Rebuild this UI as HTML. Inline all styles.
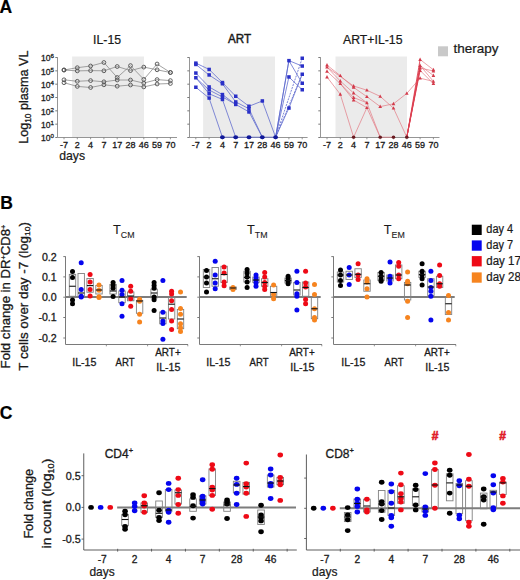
<!DOCTYPE html>
<html><head><meta charset="utf-8"><style>
html,body{margin:0;padding:0;background:#fff;width:520px;height:580px;overflow:hidden}
svg{display:block;font-family:"Liberation Sans", sans-serif}
</style></head><body>
<svg width="520" height="580" viewBox="0 0 520 580">
<rect width="520" height="580" fill="#fff"/>
<text x="-0.5" y="12.6" font-size="17.5" text-anchor="start" fill="#000" stroke="#000" stroke-width="0.2" font-weight="bold">A</text>
<text x="0.2" y="209.4" font-size="17.5" text-anchor="start" fill="#000" stroke="#000" stroke-width="0.2" font-weight="bold">B</text>
<text x="-0.3" y="418.9" font-size="17.5" text-anchor="start" fill="#000" stroke="#000" stroke-width="0.2" font-weight="bold">C</text>
<rect x="72.1" y="56.5" width="71.9" height="81.0" fill="#ebebeb"/>
<line x1="57.5" y1="57.3" x2="57.5" y2="137.5" stroke="#8a8a8a" stroke-width="0.9"/>
<line x1="57.5" y1="137.5" x2="177.0" y2="137.5" stroke="#8a8a8a" stroke-width="0.9"/>
<line x1="55.3" y1="137.5" x2="57.5" y2="137.5" stroke="#7a7a7a" stroke-width="1"/>
<line x1="55.3" y1="124.17" x2="57.5" y2="124.17" stroke="#7a7a7a" stroke-width="1"/>
<line x1="55.3" y1="110.84" x2="57.5" y2="110.84" stroke="#7a7a7a" stroke-width="1"/>
<line x1="55.3" y1="97.50999999999999" x2="57.5" y2="97.50999999999999" stroke="#7a7a7a" stroke-width="1"/>
<line x1="55.3" y1="84.18" x2="57.5" y2="84.18" stroke="#7a7a7a" stroke-width="1"/>
<line x1="55.3" y1="70.85" x2="57.5" y2="70.85" stroke="#7a7a7a" stroke-width="1"/>
<line x1="55.3" y1="57.519999999999996" x2="57.5" y2="57.519999999999996" stroke="#7a7a7a" stroke-width="1"/>
<line x1="64.0" y1="137.5" x2="64.0" y2="139.3" stroke="#7a7a7a" stroke-width="0.8"/>
<text x="64.0" y="147.8" font-size="9" text-anchor="middle" fill="#1a1a1a" stroke="#1a1a1a" stroke-width="0.3" font-weight="normal">-7</text>
<line x1="77.3" y1="137.5" x2="77.3" y2="139.3" stroke="#7a7a7a" stroke-width="0.8"/>
<text x="77.3" y="147.8" font-size="9" text-anchor="middle" fill="#1a1a1a" stroke="#1a1a1a" stroke-width="0.3" font-weight="normal">2</text>
<line x1="90.6" y1="137.5" x2="90.6" y2="139.3" stroke="#7a7a7a" stroke-width="0.8"/>
<text x="90.6" y="147.8" font-size="9" text-anchor="middle" fill="#1a1a1a" stroke="#1a1a1a" stroke-width="0.3" font-weight="normal">4</text>
<line x1="103.9" y1="137.5" x2="103.9" y2="139.3" stroke="#7a7a7a" stroke-width="0.8"/>
<text x="103.9" y="147.8" font-size="9" text-anchor="middle" fill="#1a1a1a" stroke="#1a1a1a" stroke-width="0.3" font-weight="normal">7</text>
<line x1="117.2" y1="137.5" x2="117.2" y2="139.3" stroke="#7a7a7a" stroke-width="0.8"/>
<text x="117.2" y="147.8" font-size="9" text-anchor="middle" fill="#1a1a1a" stroke="#1a1a1a" stroke-width="0.3" font-weight="normal">17</text>
<line x1="130.5" y1="137.5" x2="130.5" y2="139.3" stroke="#7a7a7a" stroke-width="0.8"/>
<text x="130.5" y="147.8" font-size="9" text-anchor="middle" fill="#1a1a1a" stroke="#1a1a1a" stroke-width="0.3" font-weight="normal">28</text>
<line x1="143.8" y1="137.5" x2="143.8" y2="139.3" stroke="#7a7a7a" stroke-width="0.8"/>
<text x="143.8" y="147.8" font-size="9" text-anchor="middle" fill="#1a1a1a" stroke="#1a1a1a" stroke-width="0.3" font-weight="normal">46</text>
<line x1="157.10000000000002" y1="137.5" x2="157.10000000000002" y2="139.3" stroke="#7a7a7a" stroke-width="0.8"/>
<text x="157.1" y="147.8" font-size="9" text-anchor="middle" fill="#1a1a1a" stroke="#1a1a1a" stroke-width="0.3" font-weight="normal">59</text>
<line x1="170.4" y1="137.5" x2="170.4" y2="139.3" stroke="#7a7a7a" stroke-width="0.8"/>
<text x="170.4" y="147.8" font-size="9" text-anchor="middle" fill="#1a1a1a" stroke="#1a1a1a" stroke-width="0.3" font-weight="normal">70</text>
<rect x="203.1" y="56.5" width="71.9" height="81.0" fill="#ebebeb"/>
<line x1="189.5" y1="57.3" x2="189.5" y2="137.5" stroke="#8a8a8a" stroke-width="0.9"/>
<line x1="189.5" y1="137.5" x2="307.6" y2="137.5" stroke="#8a8a8a" stroke-width="0.9"/>
<line x1="187.3" y1="137.5" x2="189.5" y2="137.5" stroke="#7a7a7a" stroke-width="1"/>
<line x1="187.3" y1="124.17" x2="189.5" y2="124.17" stroke="#7a7a7a" stroke-width="1"/>
<line x1="187.3" y1="110.84" x2="189.5" y2="110.84" stroke="#7a7a7a" stroke-width="1"/>
<line x1="187.3" y1="97.50999999999999" x2="189.5" y2="97.50999999999999" stroke="#7a7a7a" stroke-width="1"/>
<line x1="187.3" y1="84.18" x2="189.5" y2="84.18" stroke="#7a7a7a" stroke-width="1"/>
<line x1="187.3" y1="70.85" x2="189.5" y2="70.85" stroke="#7a7a7a" stroke-width="1"/>
<line x1="187.3" y1="57.519999999999996" x2="189.5" y2="57.519999999999996" stroke="#7a7a7a" stroke-width="1"/>
<line x1="195.8" y1="137.5" x2="195.8" y2="139.3" stroke="#7a7a7a" stroke-width="0.8"/>
<text x="195.8" y="147.8" font-size="9" text-anchor="middle" fill="#1a1a1a" stroke="#1a1a1a" stroke-width="0.3" font-weight="normal">-7</text>
<line x1="209.10000000000002" y1="137.5" x2="209.10000000000002" y2="139.3" stroke="#7a7a7a" stroke-width="0.8"/>
<text x="209.1" y="147.8" font-size="9" text-anchor="middle" fill="#1a1a1a" stroke="#1a1a1a" stroke-width="0.3" font-weight="normal">2</text>
<line x1="222.4" y1="137.5" x2="222.4" y2="139.3" stroke="#7a7a7a" stroke-width="0.8"/>
<text x="222.4" y="147.8" font-size="9" text-anchor="middle" fill="#1a1a1a" stroke="#1a1a1a" stroke-width="0.3" font-weight="normal">4</text>
<line x1="235.70000000000002" y1="137.5" x2="235.70000000000002" y2="139.3" stroke="#7a7a7a" stroke-width="0.8"/>
<text x="235.7" y="147.8" font-size="9" text-anchor="middle" fill="#1a1a1a" stroke="#1a1a1a" stroke-width="0.3" font-weight="normal">7</text>
<line x1="249.0" y1="137.5" x2="249.0" y2="139.3" stroke="#7a7a7a" stroke-width="0.8"/>
<text x="249.0" y="147.8" font-size="9" text-anchor="middle" fill="#1a1a1a" stroke="#1a1a1a" stroke-width="0.3" font-weight="normal">17</text>
<line x1="262.3" y1="137.5" x2="262.3" y2="139.3" stroke="#7a7a7a" stroke-width="0.8"/>
<text x="262.3" y="147.8" font-size="9" text-anchor="middle" fill="#1a1a1a" stroke="#1a1a1a" stroke-width="0.3" font-weight="normal">28</text>
<line x1="275.6" y1="137.5" x2="275.6" y2="139.3" stroke="#7a7a7a" stroke-width="0.8"/>
<text x="275.6" y="147.8" font-size="9" text-anchor="middle" fill="#1a1a1a" stroke="#1a1a1a" stroke-width="0.3" font-weight="normal">46</text>
<line x1="288.90000000000003" y1="137.5" x2="288.90000000000003" y2="139.3" stroke="#7a7a7a" stroke-width="0.8"/>
<text x="288.9" y="147.8" font-size="9" text-anchor="middle" fill="#1a1a1a" stroke="#1a1a1a" stroke-width="0.3" font-weight="normal">59</text>
<line x1="302.20000000000005" y1="137.5" x2="302.20000000000005" y2="139.3" stroke="#7a7a7a" stroke-width="0.8"/>
<text x="302.2" y="147.8" font-size="9" text-anchor="middle" fill="#1a1a1a" stroke="#1a1a1a" stroke-width="0.3" font-weight="normal">70</text>
<rect x="335.5" y="56.5" width="71.5" height="81.0" fill="#ebebeb"/>
<line x1="320.5" y1="57.3" x2="320.5" y2="137.5" stroke="#8a8a8a" stroke-width="0.9"/>
<line x1="320.5" y1="137.5" x2="439.5" y2="137.5" stroke="#8a8a8a" stroke-width="0.9"/>
<line x1="318.3" y1="137.5" x2="320.5" y2="137.5" stroke="#7a7a7a" stroke-width="1"/>
<line x1="318.3" y1="124.17" x2="320.5" y2="124.17" stroke="#7a7a7a" stroke-width="1"/>
<line x1="318.3" y1="110.84" x2="320.5" y2="110.84" stroke="#7a7a7a" stroke-width="1"/>
<line x1="318.3" y1="97.50999999999999" x2="320.5" y2="97.50999999999999" stroke="#7a7a7a" stroke-width="1"/>
<line x1="318.3" y1="84.18" x2="320.5" y2="84.18" stroke="#7a7a7a" stroke-width="1"/>
<line x1="318.3" y1="70.85" x2="320.5" y2="70.85" stroke="#7a7a7a" stroke-width="1"/>
<line x1="318.3" y1="57.519999999999996" x2="320.5" y2="57.519999999999996" stroke="#7a7a7a" stroke-width="1"/>
<line x1="327.0" y1="137.5" x2="327.0" y2="139.3" stroke="#7a7a7a" stroke-width="0.8"/>
<text x="327.0" y="147.8" font-size="9" text-anchor="middle" fill="#1a1a1a" stroke="#1a1a1a" stroke-width="0.3" font-weight="normal">-7</text>
<line x1="340.3" y1="137.5" x2="340.3" y2="139.3" stroke="#7a7a7a" stroke-width="0.8"/>
<text x="340.3" y="147.8" font-size="9" text-anchor="middle" fill="#1a1a1a" stroke="#1a1a1a" stroke-width="0.3" font-weight="normal">2</text>
<line x1="353.6" y1="137.5" x2="353.6" y2="139.3" stroke="#7a7a7a" stroke-width="0.8"/>
<text x="353.6" y="147.8" font-size="9" text-anchor="middle" fill="#1a1a1a" stroke="#1a1a1a" stroke-width="0.3" font-weight="normal">4</text>
<line x1="366.9" y1="137.5" x2="366.9" y2="139.3" stroke="#7a7a7a" stroke-width="0.8"/>
<text x="366.9" y="147.8" font-size="9" text-anchor="middle" fill="#1a1a1a" stroke="#1a1a1a" stroke-width="0.3" font-weight="normal">7</text>
<line x1="380.2" y1="137.5" x2="380.2" y2="139.3" stroke="#7a7a7a" stroke-width="0.8"/>
<text x="380.2" y="147.8" font-size="9" text-anchor="middle" fill="#1a1a1a" stroke="#1a1a1a" stroke-width="0.3" font-weight="normal">17</text>
<line x1="393.5" y1="137.5" x2="393.5" y2="139.3" stroke="#7a7a7a" stroke-width="0.8"/>
<text x="393.5" y="147.8" font-size="9" text-anchor="middle" fill="#1a1a1a" stroke="#1a1a1a" stroke-width="0.3" font-weight="normal">28</text>
<line x1="406.8" y1="137.5" x2="406.8" y2="139.3" stroke="#7a7a7a" stroke-width="0.8"/>
<text x="406.8" y="147.8" font-size="9" text-anchor="middle" fill="#1a1a1a" stroke="#1a1a1a" stroke-width="0.3" font-weight="normal">46</text>
<line x1="420.1" y1="137.5" x2="420.1" y2="139.3" stroke="#7a7a7a" stroke-width="0.8"/>
<text x="420.1" y="147.8" font-size="9" text-anchor="middle" fill="#1a1a1a" stroke="#1a1a1a" stroke-width="0.3" font-weight="normal">59</text>
<line x1="433.4" y1="137.5" x2="433.4" y2="139.3" stroke="#7a7a7a" stroke-width="0.8"/>
<text x="433.4" y="147.8" font-size="9" text-anchor="middle" fill="#1a1a1a" stroke="#1a1a1a" stroke-width="0.3" font-weight="normal">70</text>
<text x="50.6" y="141.3" font-size="8.6" text-anchor="end" fill="#222" stroke="#222" stroke-width="0.3" font-weight="normal">10</text>
<text x="50.6" y="138.3" font-size="6.2" text-anchor="start" fill="#222" stroke="#222" stroke-width="0.3" font-weight="normal">0</text>
<text x="50.6" y="127.97" font-size="8.6" text-anchor="end" fill="#222" stroke="#222" stroke-width="0.3" font-weight="normal">10</text>
<text x="50.6" y="124.97" font-size="6.2" text-anchor="start" fill="#222" stroke="#222" stroke-width="0.3" font-weight="normal">1</text>
<text x="50.6" y="114.64" font-size="8.6" text-anchor="end" fill="#222" stroke="#222" stroke-width="0.3" font-weight="normal">10</text>
<text x="50.6" y="111.64" font-size="6.2" text-anchor="start" fill="#222" stroke="#222" stroke-width="0.3" font-weight="normal">2</text>
<text x="50.6" y="101.31" font-size="8.6" text-anchor="end" fill="#222" stroke="#222" stroke-width="0.3" font-weight="normal">10</text>
<text x="50.6" y="98.31" font-size="6.2" text-anchor="start" fill="#222" stroke="#222" stroke-width="0.3" font-weight="normal">3</text>
<text x="50.6" y="87.98" font-size="8.6" text-anchor="end" fill="#222" stroke="#222" stroke-width="0.3" font-weight="normal">10</text>
<text x="50.6" y="84.98" font-size="6.2" text-anchor="start" fill="#222" stroke="#222" stroke-width="0.3" font-weight="normal">4</text>
<text x="50.6" y="74.65" font-size="8.6" text-anchor="end" fill="#222" stroke="#222" stroke-width="0.3" font-weight="normal">10</text>
<text x="50.6" y="71.65" font-size="6.2" text-anchor="start" fill="#222" stroke="#222" stroke-width="0.3" font-weight="normal">5</text>
<text x="50.6" y="61.32" font-size="8.6" text-anchor="end" fill="#222" stroke="#222" stroke-width="0.3" font-weight="normal">10</text>
<text x="50.6" y="58.32" font-size="6.2" text-anchor="start" fill="#222" stroke="#222" stroke-width="0.3" font-weight="normal">6</text>
<text x="93.1" y="43.5" font-size="12.5" text-anchor="start" fill="#1a1a1a" stroke="#1a1a1a" stroke-width="0.22" font-weight="normal" textLength="28" lengthAdjust="spacingAndGlyphs">IL-15</text>
<text x="228.1" y="43.2" font-size="12" text-anchor="start" fill="#1a1a1a" stroke="#1a1a1a" stroke-width="0.22" font-weight="normal" textLength="23" lengthAdjust="spacingAndGlyphs" style="stroke-width:0.45">ART</text>
<text x="343" y="43.7" font-size="12.3" text-anchor="start" fill="#1a1a1a" stroke="#1a1a1a" stroke-width="0.22" font-weight="normal" textLength="59.5" lengthAdjust="spacingAndGlyphs">ART+IL-15</text>
<rect x="438" y="46.3" width="10" height="10" fill="#c9c9c9"/>
<text x="453.4" y="53.4" font-size="13" text-anchor="start" fill="#1a1a1a" stroke="#1a1a1a" stroke-width="0.22" font-weight="normal" textLength="45" lengthAdjust="spacingAndGlyphs">therapy</text>
<text x="59.2" y="160.3" font-size="12.9" text-anchor="start" fill="#1a1a1a" stroke="#1a1a1a" stroke-width="0.22" font-weight="normal" textLength="25.8" lengthAdjust="spacingAndGlyphs">days</text>
<text transform="translate(28.0,143.8) rotate(-90)" font-size="12.8" fill="#1a1a1a" stroke="#1a1a1a" stroke-width="0.3" textLength="93.3" lengthAdjust="spacingAndGlyphs">Log<tspan font-size="8.5" dy="3">10</tspan><tspan dy="-3"> plasma VL</tspan></text>
<polyline fill="none" stroke="#8a8a8a" stroke-width="0.8" points="64.0,70.0 77.3,67.7 90.6,66.0 103.9,62.5 117.2,77.5 130.5,65.6 143.8,79.4 157.1,64.0 170.4,72.5"/>
<polyline fill="none" stroke="#8a8a8a" stroke-width="0.8" points="64.0,70.0 77.3,70.9 90.6,70.6 103.9,70.8 117.2,66.5 130.5,70.6 143.8,67.1 157.1,69.8 170.4,72.5"/>
<polyline fill="none" stroke="#8a8a8a" stroke-width="0.8" points="64.0,79.8 77.3,81.3 90.6,80.6 103.9,81.8 117.2,80.0 130.5,80.0 143.8,83.1 157.1,79.6 170.4,80.6"/>
<polyline fill="none" stroke="#8a8a8a" stroke-width="0.8" points="64.0,82.7 77.3,86.4 90.6,87.5 103.9,84.8 117.2,86.2 130.5,85.0 143.8,86.9 157.1,84.0 170.4,83.5"/>
<circle cx="64.0" cy="70.0" r="1.9" fill="none" stroke="#505050" stroke-width="0.9"/>
<circle cx="77.3" cy="67.7" r="1.9" fill="none" stroke="#505050" stroke-width="0.9"/>
<circle cx="90.6" cy="66.0" r="1.9" fill="none" stroke="#505050" stroke-width="0.9"/>
<circle cx="103.9" cy="62.5" r="1.9" fill="none" stroke="#505050" stroke-width="0.9"/>
<circle cx="117.2" cy="77.5" r="1.9" fill="none" stroke="#505050" stroke-width="0.9"/>
<circle cx="130.5" cy="65.6" r="1.9" fill="none" stroke="#505050" stroke-width="0.9"/>
<circle cx="143.8" cy="79.4" r="1.9" fill="none" stroke="#505050" stroke-width="0.9"/>
<circle cx="157.1" cy="64.0" r="1.9" fill="none" stroke="#505050" stroke-width="0.9"/>
<circle cx="170.4" cy="72.5" r="1.9" fill="none" stroke="#505050" stroke-width="0.9"/>
<circle cx="64.0" cy="70.0" r="1.9" fill="none" stroke="#505050" stroke-width="0.9"/>
<circle cx="77.3" cy="70.9" r="1.9" fill="none" stroke="#505050" stroke-width="0.9"/>
<circle cx="90.6" cy="70.6" r="1.9" fill="none" stroke="#505050" stroke-width="0.9"/>
<circle cx="103.9" cy="70.8" r="1.9" fill="none" stroke="#505050" stroke-width="0.9"/>
<circle cx="117.2" cy="66.5" r="1.9" fill="none" stroke="#505050" stroke-width="0.9"/>
<circle cx="130.5" cy="70.6" r="1.9" fill="none" stroke="#505050" stroke-width="0.9"/>
<circle cx="143.8" cy="67.1" r="1.9" fill="none" stroke="#505050" stroke-width="0.9"/>
<circle cx="157.1" cy="69.8" r="1.9" fill="none" stroke="#505050" stroke-width="0.9"/>
<circle cx="170.4" cy="72.5" r="1.9" fill="none" stroke="#505050" stroke-width="0.9"/>
<circle cx="64.0" cy="79.8" r="1.9" fill="none" stroke="#505050" stroke-width="0.9"/>
<circle cx="77.3" cy="81.3" r="1.9" fill="none" stroke="#505050" stroke-width="0.9"/>
<circle cx="90.6" cy="80.6" r="1.9" fill="none" stroke="#505050" stroke-width="0.9"/>
<circle cx="103.9" cy="81.8" r="1.9" fill="none" stroke="#505050" stroke-width="0.9"/>
<circle cx="117.2" cy="80.0" r="1.9" fill="none" stroke="#505050" stroke-width="0.9"/>
<circle cx="130.5" cy="80.0" r="1.9" fill="none" stroke="#505050" stroke-width="0.9"/>
<circle cx="143.8" cy="83.1" r="1.9" fill="none" stroke="#505050" stroke-width="0.9"/>
<circle cx="157.1" cy="79.6" r="1.9" fill="none" stroke="#505050" stroke-width="0.9"/>
<circle cx="170.4" cy="80.6" r="1.9" fill="none" stroke="#505050" stroke-width="0.9"/>
<circle cx="64.0" cy="82.7" r="1.9" fill="none" stroke="#505050" stroke-width="0.9"/>
<circle cx="77.3" cy="86.4" r="1.9" fill="none" stroke="#505050" stroke-width="0.9"/>
<circle cx="90.6" cy="87.5" r="1.9" fill="none" stroke="#505050" stroke-width="0.9"/>
<circle cx="103.9" cy="84.8" r="1.9" fill="none" stroke="#505050" stroke-width="0.9"/>
<circle cx="117.2" cy="86.2" r="1.9" fill="none" stroke="#505050" stroke-width="0.9"/>
<circle cx="130.5" cy="85.0" r="1.9" fill="none" stroke="#505050" stroke-width="0.9"/>
<circle cx="143.8" cy="86.9" r="1.9" fill="none" stroke="#505050" stroke-width="0.9"/>
<circle cx="157.1" cy="84.0" r="1.9" fill="none" stroke="#505050" stroke-width="0.9"/>
<circle cx="170.4" cy="83.5" r="1.9" fill="none" stroke="#505050" stroke-width="0.9"/>
<line x1="195.8" y1="63.1" x2="209.1" y2="69.4" stroke="#5a66cc" stroke-width="0.75"/>
<line x1="195.8" y1="64.4" x2="209.1" y2="75" stroke="#5a66cc" stroke-width="0.75"/>
<line x1="195.8" y1="73.1" x2="209.1" y2="86.9" stroke="#5a66cc" stroke-width="0.75"/>
<line x1="195.8" y1="77.75" x2="209.1" y2="90" stroke="#5a66cc" stroke-width="0.75"/>
<line x1="195.8" y1="77.75" x2="209.1" y2="93.75" stroke="#5a66cc" stroke-width="0.75"/>
<line x1="195.8" y1="87.25" x2="209.1" y2="98.1" stroke="#5a66cc" stroke-width="0.75"/>
<line x1="209.1" y1="69.4" x2="222.4" y2="82.5" stroke="#5a66cc" stroke-width="0.75"/>
<line x1="209.1" y1="75" x2="222.4" y2="83.75" stroke="#5a66cc" stroke-width="0.75"/>
<line x1="209.1" y1="86.9" x2="222.4" y2="94.6" stroke="#5a66cc" stroke-width="0.75"/>
<line x1="209.1" y1="90" x2="222.4" y2="96.9" stroke="#5a66cc" stroke-width="0.75"/>
<line x1="209.1" y1="93.75" x2="222.4" y2="99.4" stroke="#5a66cc" stroke-width="0.75"/>
<line x1="209.1" y1="98.1" x2="222.4" y2="137.2" stroke="#5a66cc" stroke-width="0.75"/>
<line x1="222.4" y1="82.5" x2="235.7" y2="96.25" stroke="#5a66cc" stroke-width="0.75"/>
<line x1="222.4" y1="83.75" x2="235.7" y2="101.9" stroke="#5a66cc" stroke-width="0.75"/>
<line x1="222.4" y1="94.6" x2="235.7" y2="104.4" stroke="#5a66cc" stroke-width="0.75"/>
<line x1="222.4" y1="96.9" x2="235.7" y2="104.4" stroke="#5a66cc" stroke-width="0.75"/>
<line x1="222.4" y1="99.4" x2="235.7" y2="137.2" stroke="#5a66cc" stroke-width="0.75"/>
<line x1="235.7" y1="96.25" x2="249.0" y2="106.25" stroke="#5a66cc" stroke-width="0.75"/>
<line x1="235.7" y1="101.9" x2="249.0" y2="108.75" stroke="#5a66cc" stroke-width="0.75"/>
<line x1="235.7" y1="104.4" x2="249.0" y2="111.9" stroke="#5a66cc" stroke-width="0.75"/>
<line x1="249.0" y1="106.25" x2="262.3" y2="101" stroke="#5a66cc" stroke-width="0.75"/>
<line x1="249.0" y1="108.75" x2="262.3" y2="137.2" stroke="#5a66cc" stroke-width="0.75"/>
<line x1="249.0" y1="111.9" x2="262.3" y2="137.2" stroke="#5a66cc" stroke-width="0.75"/>
<line x1="262.3" y1="101" x2="275.6" y2="137.2" stroke="#5a66cc" stroke-width="0.75"/>
<line x1="222.4" y1="137.2" x2="275.6" y2="137.2" stroke="#5a66cc" stroke-width="0.75"/>
<line x1="275.6" y1="137.2" x2="288.9" y2="60.6" stroke="#5a66cc" stroke-width="0.75"/>
<line x1="275.6" y1="137.2" x2="288.9" y2="60.6" stroke="#5a66cc" stroke-width="0.75"/>
<line x1="275.6" y1="137.2" x2="288.9" y2="77" stroke="#5a66cc" stroke-width="0.75"/>
<line x1="275.6" y1="137.2" x2="288.9" y2="108.1" stroke="#5a66cc" stroke-width="0.75"/>
<line x1="288.9" y1="60.6" x2="302.2" y2="66.1" stroke="#5a66cc" stroke-width="0.75"/>
<line x1="288.9" y1="60.6" x2="302.2" y2="83.3" stroke="#5a66cc" stroke-width="0.75"/>
<line x1="288.9" y1="77" x2="302.2" y2="89.7" stroke="#5a66cc" stroke-width="0.75"/>
<line x1="288.9" y1="108.1" x2="302.2" y2="74.3" stroke="#5a66cc" stroke-width="0.75"/>
<line x1="275.6" y1="137.2" x2="302.2" y2="58.25" stroke="#5a66cc" stroke-width="0.8" stroke-dasharray="2,1"/>
<line x1="275.6" y1="137.2" x2="302.2" y2="74.3" stroke="#5a66cc" stroke-width="0.8" stroke-dasharray="2,1"/>
<rect x="194.1" y="61.4" width="3.5" height="3.5" fill="#2a30c8"/>
<rect x="194.1" y="62.7" width="3.5" height="3.5" fill="#2a30c8"/>
<rect x="194.1" y="71.3" width="3.5" height="3.5" fill="#2a30c8"/>
<rect x="194.1" y="76.0" width="3.5" height="3.5" fill="#2a30c8"/>
<rect x="194.1" y="85.5" width="3.5" height="3.5" fill="#2a30c8"/>
<rect x="207.4" y="67.7" width="3.5" height="3.5" fill="#2a30c8"/>
<rect x="207.4" y="73.2" width="3.5" height="3.5" fill="#2a30c8"/>
<rect x="207.4" y="85.2" width="3.5" height="3.5" fill="#2a30c8"/>
<rect x="207.4" y="88.2" width="3.5" height="3.5" fill="#2a30c8"/>
<rect x="207.4" y="92.0" width="3.5" height="3.5" fill="#2a30c8"/>
<rect x="207.4" y="96.3" width="3.5" height="3.5" fill="#2a30c8"/>
<rect x="220.7" y="80.8" width="3.5" height="3.5" fill="#2a30c8"/>
<rect x="220.7" y="82.0" width="3.5" height="3.5" fill="#2a30c8"/>
<rect x="220.7" y="92.8" width="3.5" height="3.5" fill="#2a30c8"/>
<rect x="220.7" y="95.2" width="3.5" height="3.5" fill="#2a30c8"/>
<rect x="220.7" y="97.7" width="3.5" height="3.5" fill="#2a30c8"/>
<rect x="234.0" y="94.5" width="3.5" height="3.5" fill="#2a30c8"/>
<rect x="234.0" y="100.2" width="3.5" height="3.5" fill="#2a30c8"/>
<rect x="234.0" y="102.7" width="3.5" height="3.5" fill="#2a30c8"/>
<rect x="247.2" y="104.5" width="3.5" height="3.5" fill="#2a30c8"/>
<rect x="247.2" y="107.0" width="3.5" height="3.5" fill="#2a30c8"/>
<rect x="247.2" y="110.2" width="3.5" height="3.5" fill="#2a30c8"/>
<rect x="260.6" y="99.2" width="3.5" height="3.5" fill="#2a30c8"/>
<rect x="287.2" y="58.9" width="3.5" height="3.5" fill="#2a30c8"/>
<rect x="287.2" y="75.2" width="3.5" height="3.5" fill="#2a30c8"/>
<rect x="287.2" y="106.3" width="3.5" height="3.5" fill="#2a30c8"/>
<rect x="300.5" y="56.5" width="3.5" height="3.5" fill="#2a30c8"/>
<rect x="300.5" y="64.3" width="3.5" height="3.5" fill="#2a30c8"/>
<rect x="300.5" y="72.5" width="3.5" height="3.5" fill="#2a30c8"/>
<rect x="300.5" y="81.5" width="3.5" height="3.5" fill="#2a30c8"/>
<rect x="300.5" y="88.0" width="3.5" height="3.5" fill="#2a30c8"/>
<ellipse cx="222.4" cy="137.2" rx="2.4" ry="2" fill="#10189a"/>
<ellipse cx="235.7" cy="137.2" rx="2.4" ry="2" fill="#10189a"/>
<ellipse cx="249.0" cy="137.2" rx="2.4" ry="2" fill="#10189a"/>
<ellipse cx="262.3" cy="137.2" rx="2.4" ry="2" fill="#10189a"/>
<ellipse cx="275.6" cy="137.2" rx="2.4" ry="2" fill="#10189a"/>
<line x1="327.0" y1="65.1" x2="340.3" y2="75.7" stroke="#e37a84" stroke-width="0.7"/>
<line x1="327.0" y1="67.2" x2="340.3" y2="81.1" stroke="#e37a84" stroke-width="0.7"/>
<line x1="327.0" y1="71.3" x2="340.3" y2="83.6" stroke="#e37a84" stroke-width="0.7"/>
<line x1="327.0" y1="77" x2="340.3" y2="94.3" stroke="#e37a84" stroke-width="0.7"/>
<line x1="327.0" y1="67.2" x2="353.6" y2="86" stroke="#e37a84" stroke-width="0.7"/>
<line x1="340.3" y1="75.7" x2="353.6" y2="87.4" stroke="#e37a84" stroke-width="0.7"/>
<line x1="340.3" y1="81.1" x2="353.6" y2="93" stroke="#e37a84" stroke-width="0.7"/>
<line x1="340.3" y1="83.6" x2="353.6" y2="97.5" stroke="#e37a84" stroke-width="0.7"/>
<line x1="340.3" y1="94.3" x2="353.6" y2="137.2" stroke="#e37a84" stroke-width="0.7"/>
<line x1="340.3" y1="83.6" x2="353.6" y2="100" stroke="#e37a84" stroke-width="0.7"/>
<line x1="353.6" y1="86" x2="366.9" y2="90.2" stroke="#e37a84" stroke-width="0.7"/>
<line x1="353.6" y1="87.4" x2="366.9" y2="96.7" stroke="#e37a84" stroke-width="0.7"/>
<line x1="353.6" y1="93" x2="366.9" y2="102.8" stroke="#e37a84" stroke-width="0.7"/>
<line x1="353.6" y1="97.5" x2="366.9" y2="102.8" stroke="#e37a84" stroke-width="0.7"/>
<line x1="353.6" y1="137.2" x2="366.9" y2="107.7" stroke="#e37a84" stroke-width="0.7"/>
<line x1="353.6" y1="100" x2="366.9" y2="107.7" stroke="#e37a84" stroke-width="0.7"/>
<line x1="366.9" y1="90.2" x2="380.2" y2="96.4" stroke="#e37a84" stroke-width="0.7"/>
<line x1="366.9" y1="96.7" x2="380.2" y2="106.6" stroke="#e37a84" stroke-width="0.7"/>
<line x1="366.9" y1="102.8" x2="380.2" y2="137.2" stroke="#e37a84" stroke-width="0.7"/>
<line x1="366.9" y1="107.7" x2="380.2" y2="137.2" stroke="#e37a84" stroke-width="0.7"/>
<line x1="380.2" y1="96.4" x2="393.5" y2="108.2" stroke="#e37a84" stroke-width="0.7"/>
<line x1="380.2" y1="106.6" x2="393.5" y2="103.8" stroke="#e37a84" stroke-width="0.7"/>
<line x1="380.2" y1="137.2" x2="393.5" y2="137.2" stroke="#e37a84" stroke-width="0.7"/>
<line x1="393.5" y1="103.8" x2="406.8" y2="93.4" stroke="#e37a84" stroke-width="0.7"/>
<line x1="393.5" y1="108.2" x2="406.8" y2="137.2" stroke="#e37a84" stroke-width="0.7"/>
<line x1="406.8" y1="93.4" x2="420.1" y2="78.2" stroke="#e37a84" stroke-width="0.7"/>
<line x1="420.1" y1="59.5" x2="433.4" y2="69.8" stroke="#e37a84" stroke-width="0.7"/>
<line x1="420.1" y1="65.5" x2="433.4" y2="75.5" stroke="#e37a84" stroke-width="0.7"/>
<line x1="420.1" y1="68" x2="433.4" y2="71" stroke="#e37a84" stroke-width="0.7"/>
<line x1="420.1" y1="70.5" x2="433.4" y2="83.6" stroke="#e37a84" stroke-width="0.7"/>
<line x1="420.1" y1="78.2" x2="433.4" y2="81.4" stroke="#e37a84" stroke-width="0.7"/>
<line x1="420.1" y1="65.5" x2="433.4" y2="81.4" stroke="#e37a84" stroke-width="0.7"/>
<line x1="406.8" y1="137.2" x2="420.1" y2="59.5" stroke="#dc4050" stroke-width="0.9"/>
<line x1="406.8" y1="137.2" x2="420.1" y2="65.5" stroke="#dc4050" stroke-width="0.9"/>
<line x1="406.8" y1="137.2" x2="420.1" y2="68" stroke="#dc4050" stroke-width="0.9"/>
<line x1="406.8" y1="137.2" x2="420.1" y2="70.5" stroke="#dc4050" stroke-width="0.9"/>
<line x1="406.8" y1="137.2" x2="420.1" y2="66.5" stroke="#dc4050" stroke-width="0.9"/>
<polygon points="327.0,63.1 328.8,66.5 325.2,66.5" fill="#d33a4a"/>
<polygon points="327.0,65.2 328.8,68.6 325.2,68.6" fill="#d33a4a"/>
<polygon points="327.0,69.3 328.8,72.7 325.2,72.7" fill="#d33a4a"/>
<polygon points="327.0,75.0 328.8,78.4 325.2,78.4" fill="#d33a4a"/>
<polygon points="340.3,73.7 342.1,77.1 338.5,77.1" fill="#d33a4a"/>
<polygon points="340.3,79.1 342.1,82.5 338.5,82.5" fill="#d33a4a"/>
<polygon points="340.3,81.6 342.1,85.0 338.5,85.0" fill="#d33a4a"/>
<polygon points="340.3,92.3 342.1,95.7 338.5,95.7" fill="#d33a4a"/>
<polygon points="353.6,84.0 355.4,87.4 351.8,87.4" fill="#d33a4a"/>
<polygon points="353.6,85.4 355.4,88.8 351.8,88.8" fill="#d33a4a"/>
<polygon points="353.6,91.0 355.4,94.4 351.8,94.4" fill="#d33a4a"/>
<polygon points="353.6,95.5 355.4,98.9 351.8,98.9" fill="#d33a4a"/>
<polygon points="353.6,98.0 355.4,101.4 351.8,101.4" fill="#d33a4a"/>
<polygon points="366.9,88.2 368.7,91.6 365.1,91.6" fill="#d33a4a"/>
<polygon points="366.9,94.7 368.7,98.1 365.1,98.1" fill="#d33a4a"/>
<polygon points="366.9,100.8 368.7,104.2 365.1,104.2" fill="#d33a4a"/>
<polygon points="366.9,105.7 368.7,109.1 365.1,109.1" fill="#d33a4a"/>
<polygon points="380.2,94.4 382.0,97.8 378.4,97.8" fill="#d33a4a"/>
<polygon points="380.2,104.6 382.0,108.0 378.4,108.0" fill="#d33a4a"/>
<polygon points="393.5,101.8 395.3,105.2 391.7,105.2" fill="#d33a4a"/>
<polygon points="393.5,106.2 395.3,109.6 391.7,109.6" fill="#d33a4a"/>
<polygon points="406.8,91.4 408.6,94.8 405.0,94.8" fill="#d33a4a"/>
<polygon points="420.1,57.5 421.9,60.9 418.3,60.9" fill="#d33a4a"/>
<polygon points="420.1,63.5 421.9,66.9 418.3,66.9" fill="#d33a4a"/>
<polygon points="420.1,66.0 421.9,69.4 418.3,69.4" fill="#d33a4a"/>
<polygon points="420.1,68.5 421.9,71.9 418.3,71.9" fill="#d33a4a"/>
<polygon points="420.1,76.2 421.9,79.6 418.3,79.6" fill="#d33a4a"/>
<polygon points="433.4,67.8 435.2,71.2 431.6,71.2" fill="#d33a4a"/>
<polygon points="433.4,69.0 435.2,72.4 431.6,72.4" fill="#d33a4a"/>
<polygon points="433.4,73.5 435.2,76.9 431.6,76.9" fill="#d33a4a"/>
<polygon points="433.4,79.4 435.2,82.8 431.6,82.8" fill="#d33a4a"/>
<polygon points="433.4,81.6 435.2,85.0 431.6,85.0" fill="#d33a4a"/>
<ellipse cx="353.6" cy="137.2" rx="1.8" ry="1.6" fill="#6a1a20"/>
<ellipse cx="380.2" cy="137.2" rx="1.8" ry="1.6" fill="#6a1a20"/>
<ellipse cx="393.5" cy="137.2" rx="1.8" ry="1.6" fill="#6a1a20"/>
<ellipse cx="406.8" cy="137.2" rx="1.8" ry="1.6" fill="#6a1a20"/>
<line x1="65.5" y1="256.3" x2="65.5" y2="344.5" stroke="#7a7a7a" stroke-width="1"/>
<line x1="65.5" y1="344.5" x2="188.0" y2="344.5" stroke="#7a7a7a" stroke-width="1"/>
<line x1="63.3" y1="256.6" x2="65.5" y2="256.6" stroke="#7a7a7a" stroke-width="1"/>
<line x1="63.3" y1="276.9" x2="65.5" y2="276.9" stroke="#7a7a7a" stroke-width="1"/>
<line x1="63.3" y1="297.2" x2="65.5" y2="297.2" stroke="#7a7a7a" stroke-width="1"/>
<line x1="63.3" y1="317.5" x2="65.5" y2="317.5" stroke="#7a7a7a" stroke-width="1"/>
<line x1="63.3" y1="338.0" x2="65.5" y2="338.0" stroke="#7a7a7a" stroke-width="1"/>
<line x1="106.35" y1="344.5" x2="106.35" y2="346.3" stroke="#7a7a7a" stroke-width="0.8"/>
<line x1="147.6" y1="344.5" x2="147.6" y2="346.3" stroke="#7a7a7a" stroke-width="0.8"/>
<line x1="187.8" y1="344.5" x2="187.8" y2="346.3" stroke="#7a7a7a" stroke-width="0.8"/>
<line x1="65.5" y1="297.0" x2="186.7" y2="297.0" stroke="#7d7d7d" stroke-width="2"/>
<rect x="69.30" y="274.4" width="6.4" height="21.85" fill="none" stroke="#808080" stroke-width="0.9"/>
<rect x="78.00" y="273.5" width="6.4" height="23.50" fill="none" stroke="#808080" stroke-width="0.9"/>
<rect x="86.90" y="278.5" width="6.4" height="13.75" fill="none" stroke="#808080" stroke-width="0.9"/>
<rect x="95.80" y="285.5" width="6.4" height="8.50" fill="none" stroke="#808080" stroke-width="0.9"/>
<rect x="109.90" y="284.4" width="6.4" height="9.60" fill="none" stroke="#808080" stroke-width="0.9"/>
<rect x="118.80" y="291" width="6.4" height="11.70" fill="none" stroke="#808080" stroke-width="0.9"/>
<rect x="127.50" y="292" width="6.4" height="8.80" fill="none" stroke="#808080" stroke-width="0.9"/>
<rect x="136.40" y="300.4" width="6.4" height="12.90" fill="none" stroke="#808080" stroke-width="0.9"/>
<rect x="150.90" y="289.2" width="6.4" height="8.70" fill="none" stroke="#808080" stroke-width="0.9"/>
<rect x="159.70" y="312" width="6.4" height="11.80" fill="none" stroke="#808080" stroke-width="0.9"/>
<rect x="168.40" y="297" width="6.4" height="22.00" fill="none" stroke="#808080" stroke-width="0.9"/>
<rect x="177.30" y="309.4" width="6.4" height="19.30" fill="none" stroke="#808080" stroke-width="0.9"/>
<circle cx="72.50" cy="271.5" r="2.5" fill="#000000"/>
<circle cx="72.50" cy="277.5" r="2.5" fill="#000000"/>
<circle cx="72.50" cy="300" r="2.5" fill="#000000"/>
<circle cx="72.50" cy="303.75" r="2.5" fill="#000000"/>
<circle cx="81.20" cy="262.75" r="2.5" fill="#0505ee"/>
<circle cx="81.20" cy="289.4" r="2.5" fill="#0505ee"/>
<circle cx="81.20" cy="296.25" r="2.5" fill="#0505ee"/>
<circle cx="81.20" cy="297" r="2.5" fill="#0505ee"/>
<circle cx="90.10" cy="274.4" r="2.5" fill="#ee0a16"/>
<circle cx="90.10" cy="281.9" r="2.5" fill="#ee0a16"/>
<circle cx="90.10" cy="289.4" r="2.5" fill="#ee0a16"/>
<circle cx="90.10" cy="296" r="2.5" fill="#ee0a16"/>
<circle cx="99.00" cy="285" r="2.5" fill="#f6841f"/>
<circle cx="99.00" cy="290.2" r="2.5" fill="#f6841f"/>
<circle cx="99.00" cy="296.7" r="2.5" fill="#f6841f"/>
<circle cx="99.00" cy="297.6" r="2.5" fill="#f6841f"/>
<circle cx="113.10" cy="282.5" r="2.5" fill="#000000"/>
<circle cx="113.10" cy="285.4" r="2.5" fill="#000000"/>
<circle cx="113.10" cy="288.3" r="2.5" fill="#000000"/>
<circle cx="113.10" cy="296.5" r="2.5" fill="#000000"/>
<circle cx="122.00" cy="280.6" r="2.5" fill="#0505ee"/>
<circle cx="122.00" cy="290.2" r="2.5" fill="#0505ee"/>
<circle cx="122.00" cy="294.6" r="2.5" fill="#0505ee"/>
<circle cx="122.00" cy="303.7" r="2.5" fill="#0505ee"/>
<circle cx="122.00" cy="316.2" r="2.5" fill="#0505ee"/>
<circle cx="130.70" cy="286.3" r="2.5" fill="#ee0a16"/>
<circle cx="130.70" cy="291.2" r="2.5" fill="#ee0a16"/>
<circle cx="130.70" cy="298.8" r="2.5" fill="#ee0a16"/>
<circle cx="130.70" cy="306.2" r="2.5" fill="#ee0a16"/>
<circle cx="139.60" cy="299.2" r="2.5" fill="#f6841f"/>
<circle cx="139.60" cy="301.2" r="2.5" fill="#f6841f"/>
<circle cx="139.60" cy="314.2" r="2.5" fill="#f6841f"/>
<circle cx="139.60" cy="321.9" r="2.5" fill="#f6841f"/>
<circle cx="154.10" cy="282.5" r="2.5" fill="#000000"/>
<circle cx="154.10" cy="285.4" r="2.5" fill="#000000"/>
<circle cx="154.10" cy="288.3" r="2.5" fill="#000000"/>
<circle cx="154.10" cy="297" r="2.5" fill="#000000"/>
<circle cx="154.10" cy="299.8" r="2.5" fill="#000000"/>
<circle cx="154.10" cy="310.4" r="2.5" fill="#000000"/>
<circle cx="162.90" cy="280.6" r="2.5" fill="#0505ee"/>
<circle cx="162.90" cy="312.3" r="2.5" fill="#0505ee"/>
<circle cx="162.90" cy="321" r="2.5" fill="#0505ee"/>
<circle cx="162.90" cy="323.5" r="2.5" fill="#0505ee"/>
<circle cx="162.90" cy="339.2" r="2.5" fill="#0505ee"/>
<circle cx="171.60" cy="291.2" r="2.5" fill="#ee0a16"/>
<circle cx="171.60" cy="294" r="2.5" fill="#ee0a16"/>
<circle cx="171.60" cy="300.8" r="2.5" fill="#ee0a16"/>
<circle cx="171.60" cy="309.4" r="2.5" fill="#ee0a16"/>
<circle cx="171.60" cy="321" r="2.5" fill="#ee0a16"/>
<circle cx="171.60" cy="329.6" r="2.5" fill="#ee0a16"/>
<circle cx="180.50" cy="292.1" r="2.5" fill="#f6841f"/>
<circle cx="180.50" cy="308.5" r="2.5" fill="#f6841f"/>
<circle cx="180.50" cy="314.2" r="2.5" fill="#f6841f"/>
<circle cx="180.50" cy="323.8" r="2.5" fill="#f6841f"/>
<circle cx="180.50" cy="327.7" r="2.5" fill="#f6841f"/>
<circle cx="180.50" cy="331.5" r="2.5" fill="#f6841f"/>
<line x1="69.3" y1="286.25" x2="75.7" y2="286.25" stroke="#111" stroke-width="1.1"/>
<line x1="78.0" y1="293" x2="84.4" y2="293" stroke="#111" stroke-width="1.1"/>
<line x1="86.9" y1="285.6" x2="93.3" y2="285.6" stroke="#111" stroke-width="1.1"/>
<line x1="95.8" y1="290" x2="102.2" y2="290" stroke="#111" stroke-width="1.1"/>
<line x1="109.9" y1="291" x2="116.3" y2="291" stroke="#111" stroke-width="1.1"/>
<line x1="118.8" y1="297" x2="125.2" y2="297" stroke="#111" stroke-width="1.1"/>
<line x1="127.5" y1="296" x2="133.9" y2="296" stroke="#111" stroke-width="1.1"/>
<line x1="136.4" y1="301" x2="142.8" y2="301" stroke="#111" stroke-width="1.1"/>
<line x1="150.9" y1="293" x2="157.3" y2="293" stroke="#111" stroke-width="1.1"/>
<line x1="159.7" y1="318" x2="166.1" y2="318" stroke="#111" stroke-width="1.1"/>
<line x1="168.4" y1="304.2" x2="174.8" y2="304.2" stroke="#111" stroke-width="1.1"/>
<line x1="177.3" y1="319" x2="183.7" y2="319" stroke="#111" stroke-width="1.1"/>
<text x="72.2" y="365.6" font-size="10.5" text-anchor="start" fill="#1a1a1a" stroke="#1a1a1a" stroke-width="0.3" font-weight="normal" textLength="24.2" lengthAdjust="spacingAndGlyphs">IL-15</text>
<text x="115.6" y="365.6" font-size="10.5" text-anchor="start" fill="#1a1a1a" stroke="#1a1a1a" stroke-width="0.3" font-weight="normal" textLength="19" lengthAdjust="spacingAndGlyphs">ART</text>
<text x="155.2" y="356.3" font-size="10.5" text-anchor="start" fill="#1a1a1a" stroke="#1a1a1a" stroke-width="0.3" font-weight="normal" textLength="25.5" lengthAdjust="spacingAndGlyphs">ART+</text>
<text x="156.2" y="370.6" font-size="10.5" text-anchor="start" fill="#1a1a1a" stroke="#1a1a1a" stroke-width="0.3" font-weight="normal" textLength="24.2" lengthAdjust="spacingAndGlyphs">IL-15</text>
<line x1="199.5" y1="256.3" x2="199.5" y2="344.5" stroke="#7a7a7a" stroke-width="1"/>
<line x1="199.5" y1="344.5" x2="322.0" y2="344.5" stroke="#7a7a7a" stroke-width="1"/>
<line x1="197.3" y1="256.6" x2="199.5" y2="256.6" stroke="#7a7a7a" stroke-width="1"/>
<line x1="197.3" y1="276.9" x2="199.5" y2="276.9" stroke="#7a7a7a" stroke-width="1"/>
<line x1="197.3" y1="297.2" x2="199.5" y2="297.2" stroke="#7a7a7a" stroke-width="1"/>
<line x1="197.3" y1="317.5" x2="199.5" y2="317.5" stroke="#7a7a7a" stroke-width="1"/>
<line x1="197.3" y1="338.0" x2="199.5" y2="338.0" stroke="#7a7a7a" stroke-width="1"/>
<line x1="240.35" y1="344.5" x2="240.35" y2="346.3" stroke="#7a7a7a" stroke-width="0.8"/>
<line x1="281.6" y1="344.5" x2="281.6" y2="346.3" stroke="#7a7a7a" stroke-width="0.8"/>
<line x1="321.8" y1="344.5" x2="321.8" y2="346.3" stroke="#7a7a7a" stroke-width="0.8"/>
<line x1="199.5" y1="297.0" x2="320.7" y2="297.0" stroke="#7d7d7d" stroke-width="2"/>
<rect x="203.30" y="269.5" width="6.4" height="18.00" fill="none" stroke="#808080" stroke-width="0.9"/>
<rect x="212.00" y="267.5" width="6.4" height="18.75" fill="none" stroke="#808080" stroke-width="0.9"/>
<rect x="220.90" y="266.25" width="6.4" height="16.25" fill="none" stroke="#808080" stroke-width="0.9"/>
<rect x="229.80" y="287" width="6.4" height="2.50" fill="none" stroke="#808080" stroke-width="0.9"/>
<rect x="243.90" y="271.25" width="6.4" height="10.75" fill="none" stroke="#808080" stroke-width="0.9"/>
<rect x="252.80" y="277" width="6.4" height="5.50" fill="none" stroke="#808080" stroke-width="0.9"/>
<rect x="261.50" y="278.75" width="6.4" height="7.50" fill="none" stroke="#808080" stroke-width="0.9"/>
<rect x="270.40" y="286.25" width="6.4" height="10.00" fill="none" stroke="#808080" stroke-width="0.9"/>
<rect x="284.90" y="278" width="6.4" height="5.00" fill="none" stroke="#808080" stroke-width="0.9"/>
<rect x="293.70" y="282.5" width="6.4" height="12.50" fill="none" stroke="#808080" stroke-width="0.9"/>
<rect x="302.40" y="282" width="6.4" height="14.25" fill="none" stroke="#808080" stroke-width="0.9"/>
<rect x="311.30" y="297" width="6.4" height="21.75" fill="none" stroke="#808080" stroke-width="0.9"/>
<circle cx="206.50" cy="270.5" r="2.5" fill="#000000"/>
<circle cx="206.50" cy="277" r="2.5" fill="#000000"/>
<circle cx="206.50" cy="283" r="2.5" fill="#000000"/>
<circle cx="206.50" cy="292" r="2.5" fill="#000000"/>
<circle cx="215.20" cy="261.25" r="2.5" fill="#0505ee"/>
<circle cx="215.20" cy="275" r="2.5" fill="#0505ee"/>
<circle cx="215.20" cy="283" r="2.5" fill="#0505ee"/>
<circle cx="215.20" cy="288.75" r="2.5" fill="#0505ee"/>
<circle cx="224.10" cy="267" r="2.5" fill="#ee0a16"/>
<circle cx="224.10" cy="273" r="2.5" fill="#ee0a16"/>
<circle cx="224.10" cy="282" r="2.5" fill="#ee0a16"/>
<circle cx="224.10" cy="285.75" r="2.5" fill="#ee0a16"/>
<circle cx="233.00" cy="287.5" r="2.5" fill="#f6841f"/>
<circle cx="233.00" cy="289.5" r="2.5" fill="#f6841f"/>
<circle cx="247.10" cy="269.5" r="2.5" fill="#000000"/>
<circle cx="247.10" cy="273" r="2.5" fill="#000000"/>
<circle cx="247.10" cy="277" r="2.5" fill="#000000"/>
<circle cx="247.10" cy="282" r="2.5" fill="#000000"/>
<circle cx="247.10" cy="287.5" r="2.5" fill="#000000"/>
<circle cx="256.00" cy="275" r="2.5" fill="#0505ee"/>
<circle cx="256.00" cy="278" r="2.5" fill="#0505ee"/>
<circle cx="256.00" cy="280.5" r="2.5" fill="#0505ee"/>
<circle cx="256.00" cy="283" r="2.5" fill="#0505ee"/>
<circle cx="256.00" cy="286.25" r="2.5" fill="#0505ee"/>
<circle cx="264.70" cy="272.5" r="2.5" fill="#ee0a16"/>
<circle cx="264.70" cy="277" r="2.5" fill="#ee0a16"/>
<circle cx="264.70" cy="282.5" r="2.5" fill="#ee0a16"/>
<circle cx="264.70" cy="286.25" r="2.5" fill="#ee0a16"/>
<circle cx="264.70" cy="289.5" r="2.5" fill="#ee0a16"/>
<circle cx="273.60" cy="285" r="2.5" fill="#f6841f"/>
<circle cx="273.60" cy="294.5" r="2.5" fill="#f6841f"/>
<circle cx="273.60" cy="298.75" r="2.5" fill="#f6841f"/>
<circle cx="288.10" cy="276.25" r="2.5" fill="#000000"/>
<circle cx="288.10" cy="278.75" r="2.5" fill="#000000"/>
<circle cx="288.10" cy="281.25" r="2.5" fill="#000000"/>
<circle cx="288.10" cy="283.75" r="2.5" fill="#000000"/>
<circle cx="296.90" cy="271.25" r="2.5" fill="#0505ee"/>
<circle cx="296.90" cy="282.5" r="2.5" fill="#0505ee"/>
<circle cx="296.90" cy="293.75" r="2.5" fill="#0505ee"/>
<circle cx="296.90" cy="296.25" r="2.5" fill="#0505ee"/>
<circle cx="296.90" cy="310" r="2.5" fill="#0505ee"/>
<circle cx="305.60" cy="271.25" r="2.5" fill="#ee0a16"/>
<circle cx="305.60" cy="283" r="2.5" fill="#ee0a16"/>
<circle cx="305.60" cy="287" r="2.5" fill="#ee0a16"/>
<circle cx="305.60" cy="299.5" r="2.5" fill="#ee0a16"/>
<circle cx="305.60" cy="303.75" r="2.5" fill="#ee0a16"/>
<circle cx="314.50" cy="284.5" r="2.5" fill="#f6841f"/>
<circle cx="314.50" cy="294.5" r="2.5" fill="#f6841f"/>
<circle cx="314.50" cy="308.75" r="2.5" fill="#f6841f"/>
<circle cx="314.50" cy="317.5" r="2.5" fill="#f6841f"/>
<circle cx="314.50" cy="320" r="2.5" fill="#f6841f"/>
<line x1="203.3" y1="277" x2="209.7" y2="277" stroke="#111" stroke-width="1.1"/>
<line x1="212.0" y1="278.75" x2="218.4" y2="278.75" stroke="#111" stroke-width="1.1"/>
<line x1="220.9" y1="274.5" x2="227.3" y2="274.5" stroke="#111" stroke-width="1.1"/>
<line x1="229.8" y1="288" x2="236.2" y2="288" stroke="#111" stroke-width="1.1"/>
<line x1="243.9" y1="277.5" x2="250.3" y2="277.5" stroke="#111" stroke-width="1.1"/>
<line x1="252.8" y1="280" x2="259.2" y2="280" stroke="#111" stroke-width="1.1"/>
<line x1="261.5" y1="282.5" x2="267.9" y2="282.5" stroke="#111" stroke-width="1.1"/>
<line x1="270.4" y1="292.5" x2="276.8" y2="292.5" stroke="#111" stroke-width="1.1"/>
<line x1="284.9" y1="280.5" x2="291.3" y2="280.5" stroke="#111" stroke-width="1.1"/>
<line x1="293.7" y1="290" x2="300.1" y2="290" stroke="#111" stroke-width="1.1"/>
<line x1="302.4" y1="287.5" x2="308.8" y2="287.5" stroke="#111" stroke-width="1.1"/>
<line x1="311.3" y1="308.75" x2="317.7" y2="308.75" stroke="#111" stroke-width="1.1"/>
<text x="206.2" y="365.6" font-size="10.5" text-anchor="start" fill="#1a1a1a" stroke="#1a1a1a" stroke-width="0.3" font-weight="normal" textLength="24.2" lengthAdjust="spacingAndGlyphs">IL-15</text>
<text x="249.6" y="365.6" font-size="10.5" text-anchor="start" fill="#1a1a1a" stroke="#1a1a1a" stroke-width="0.3" font-weight="normal" textLength="19" lengthAdjust="spacingAndGlyphs">ART</text>
<text x="289.2" y="356.3" font-size="10.5" text-anchor="start" fill="#1a1a1a" stroke="#1a1a1a" stroke-width="0.3" font-weight="normal" textLength="25.5" lengthAdjust="spacingAndGlyphs">ART+</text>
<text x="290.2" y="370.6" font-size="10.5" text-anchor="start" fill="#1a1a1a" stroke="#1a1a1a" stroke-width="0.3" font-weight="normal" textLength="24.2" lengthAdjust="spacingAndGlyphs">IL-15</text>
<line x1="333.5" y1="256.3" x2="333.5" y2="344.5" stroke="#7a7a7a" stroke-width="1"/>
<line x1="333.5" y1="344.5" x2="456.0" y2="344.5" stroke="#7a7a7a" stroke-width="1"/>
<line x1="331.3" y1="256.6" x2="333.5" y2="256.6" stroke="#7a7a7a" stroke-width="1"/>
<line x1="331.3" y1="276.9" x2="333.5" y2="276.9" stroke="#7a7a7a" stroke-width="1"/>
<line x1="331.3" y1="297.2" x2="333.5" y2="297.2" stroke="#7a7a7a" stroke-width="1"/>
<line x1="331.3" y1="317.5" x2="333.5" y2="317.5" stroke="#7a7a7a" stroke-width="1"/>
<line x1="331.3" y1="338.0" x2="333.5" y2="338.0" stroke="#7a7a7a" stroke-width="1"/>
<line x1="374.35" y1="344.5" x2="374.35" y2="346.3" stroke="#7a7a7a" stroke-width="0.8"/>
<line x1="415.6" y1="344.5" x2="415.6" y2="346.3" stroke="#7a7a7a" stroke-width="0.8"/>
<line x1="455.8" y1="344.5" x2="455.8" y2="346.3" stroke="#7a7a7a" stroke-width="0.8"/>
<line x1="333.5" y1="297.0" x2="454.7" y2="297.0" stroke="#7d7d7d" stroke-width="2"/>
<rect x="337.30" y="272" width="6.4" height="10.00" fill="none" stroke="#808080" stroke-width="0.9"/>
<rect x="346.00" y="271.25" width="6.4" height="8.25" fill="none" stroke="#808080" stroke-width="0.9"/>
<rect x="354.90" y="268.75" width="6.4" height="8.75" fill="none" stroke="#808080" stroke-width="0.9"/>
<rect x="363.80" y="280" width="6.4" height="11.25" fill="none" stroke="#808080" stroke-width="0.9"/>
<rect x="377.90" y="272.5" width="6.4" height="8.00" fill="none" stroke="#808080" stroke-width="0.9"/>
<rect x="386.80" y="275" width="6.4" height="6.00" fill="none" stroke="#808080" stroke-width="0.9"/>
<rect x="395.50" y="265" width="6.4" height="13.75" fill="none" stroke="#808080" stroke-width="0.9"/>
<rect x="404.40" y="282.5" width="6.4" height="17.50" fill="none" stroke="#808080" stroke-width="0.9"/>
<rect x="418.90" y="271.25" width="6.4" height="6.25" fill="none" stroke="#808080" stroke-width="0.9"/>
<rect x="427.70" y="278.75" width="6.4" height="16.75" fill="none" stroke="#808080" stroke-width="0.9"/>
<rect x="436.40" y="276.25" width="6.4" height="11.25" fill="none" stroke="#808080" stroke-width="0.9"/>
<rect x="445.30" y="297.5" width="6.4" height="17.00" fill="none" stroke="#808080" stroke-width="0.9"/>
<circle cx="340.50" cy="270" r="2.5" fill="#000000"/>
<circle cx="340.50" cy="275" r="2.5" fill="#000000"/>
<circle cx="340.50" cy="280.5" r="2.5" fill="#000000"/>
<circle cx="340.50" cy="285.5" r="2.5" fill="#000000"/>
<circle cx="349.20" cy="267.5" r="2.5" fill="#0505ee"/>
<circle cx="349.20" cy="275" r="2.5" fill="#0505ee"/>
<circle cx="349.20" cy="284.5" r="2.5" fill="#0505ee"/>
<circle cx="358.10" cy="263.75" r="2.5" fill="#ee0a16"/>
<circle cx="358.10" cy="275" r="2.5" fill="#ee0a16"/>
<circle cx="358.10" cy="279.5" r="2.5" fill="#ee0a16"/>
<circle cx="367.00" cy="278.75" r="2.5" fill="#f6841f"/>
<circle cx="367.00" cy="282" r="2.5" fill="#f6841f"/>
<circle cx="367.00" cy="288.75" r="2.5" fill="#f6841f"/>
<circle cx="367.00" cy="297" r="2.5" fill="#f6841f"/>
<circle cx="381.10" cy="272.5" r="2.5" fill="#000000"/>
<circle cx="381.10" cy="276.25" r="2.5" fill="#000000"/>
<circle cx="381.10" cy="279.5" r="2.5" fill="#000000"/>
<circle cx="381.10" cy="281.25" r="2.5" fill="#000000"/>
<circle cx="390.00" cy="262" r="2.5" fill="#0505ee"/>
<circle cx="390.00" cy="276.25" r="2.5" fill="#0505ee"/>
<circle cx="390.00" cy="278.75" r="2.5" fill="#0505ee"/>
<circle cx="390.00" cy="283" r="2.5" fill="#0505ee"/>
<circle cx="398.70" cy="262.5" r="2.5" fill="#ee0a16"/>
<circle cx="398.70" cy="266.25" r="2.5" fill="#ee0a16"/>
<circle cx="398.70" cy="275" r="2.5" fill="#ee0a16"/>
<circle cx="398.70" cy="278.75" r="2.5" fill="#ee0a16"/>
<circle cx="407.60" cy="272" r="2.5" fill="#f6841f"/>
<circle cx="407.60" cy="281.25" r="2.5" fill="#f6841f"/>
<circle cx="407.60" cy="283.75" r="2.5" fill="#f6841f"/>
<circle cx="407.60" cy="301.25" r="2.5" fill="#f6841f"/>
<circle cx="407.60" cy="317.5" r="2.5" fill="#f6841f"/>
<circle cx="422.10" cy="263.75" r="2.5" fill="#000000"/>
<circle cx="422.10" cy="271.25" r="2.5" fill="#000000"/>
<circle cx="422.10" cy="275" r="2.5" fill="#000000"/>
<circle cx="422.10" cy="278.75" r="2.5" fill="#000000"/>
<circle cx="422.10" cy="285" r="2.5" fill="#000000"/>
<circle cx="430.90" cy="271.25" r="2.5" fill="#0505ee"/>
<circle cx="430.90" cy="280.5" r="2.5" fill="#0505ee"/>
<circle cx="430.90" cy="287.5" r="2.5" fill="#0505ee"/>
<circle cx="430.90" cy="291.25" r="2.5" fill="#0505ee"/>
<circle cx="430.90" cy="296.25" r="2.5" fill="#0505ee"/>
<circle cx="430.90" cy="320" r="2.5" fill="#0505ee"/>
<circle cx="439.60" cy="265" r="2.5" fill="#ee0a16"/>
<circle cx="439.60" cy="275.5" r="2.5" fill="#ee0a16"/>
<circle cx="439.60" cy="283.75" r="2.5" fill="#ee0a16"/>
<circle cx="439.60" cy="286.25" r="2.5" fill="#ee0a16"/>
<circle cx="448.50" cy="295.5" r="2.5" fill="#f6841f"/>
<circle cx="448.50" cy="312.5" r="2.5" fill="#f6841f"/>
<circle cx="448.50" cy="320" r="2.5" fill="#f6841f"/>
<line x1="337.3" y1="275" x2="343.7" y2="275" stroke="#111" stroke-width="1.1"/>
<line x1="346.0" y1="275" x2="352.4" y2="275" stroke="#111" stroke-width="1.1"/>
<line x1="354.9" y1="274.25" x2="361.3" y2="274.25" stroke="#111" stroke-width="1.1"/>
<line x1="363.8" y1="283.75" x2="370.2" y2="283.75" stroke="#111" stroke-width="1.1"/>
<line x1="377.9" y1="276.25" x2="384.3" y2="276.25" stroke="#111" stroke-width="1.1"/>
<line x1="386.8" y1="278" x2="393.2" y2="278" stroke="#111" stroke-width="1.1"/>
<line x1="395.5" y1="275" x2="401.9" y2="275" stroke="#111" stroke-width="1.1"/>
<line x1="404.4" y1="285" x2="410.8" y2="285" stroke="#111" stroke-width="1.1"/>
<line x1="418.9" y1="274.5" x2="425.3" y2="274.5" stroke="#111" stroke-width="1.1"/>
<line x1="427.7" y1="287" x2="434.1" y2="287" stroke="#111" stroke-width="1.1"/>
<line x1="436.4" y1="283.75" x2="442.8" y2="283.75" stroke="#111" stroke-width="1.1"/>
<line x1="445.3" y1="303.75" x2="451.7" y2="303.75" stroke="#111" stroke-width="1.1"/>
<text x="341.2" y="365.6" font-size="10.5" text-anchor="start" fill="#1a1a1a" stroke="#1a1a1a" stroke-width="0.3" font-weight="normal" textLength="24.2" lengthAdjust="spacingAndGlyphs">IL-15</text>
<text x="384.6" y="365.6" font-size="10.5" text-anchor="start" fill="#1a1a1a" stroke="#1a1a1a" stroke-width="0.3" font-weight="normal" textLength="19" lengthAdjust="spacingAndGlyphs">ART</text>
<text x="424.2" y="356.3" font-size="10.5" text-anchor="start" fill="#1a1a1a" stroke="#1a1a1a" stroke-width="0.3" font-weight="normal" textLength="25.5" lengthAdjust="spacingAndGlyphs">ART+</text>
<text x="425.2" y="370.6" font-size="10.5" text-anchor="start" fill="#1a1a1a" stroke="#1a1a1a" stroke-width="0.3" font-weight="normal" textLength="24.2" lengthAdjust="spacingAndGlyphs">IL-15</text>
<text x="56.7" y="260.5" font-size="10.6" text-anchor="end" fill="#1a1a1a" stroke="#1a1a1a" stroke-width="0.3" font-weight="normal">0.2</text>
<text x="56.7" y="280.8" font-size="10.6" text-anchor="end" fill="#1a1a1a" stroke="#1a1a1a" stroke-width="0.3" font-weight="normal">0.1</text>
<text x="56.7" y="301.1" font-size="10.6" text-anchor="end" fill="#1a1a1a" stroke="#1a1a1a" stroke-width="0.3" font-weight="normal">0.0</text>
<text x="56.7" y="321.4" font-size="10.6" text-anchor="end" fill="#1a1a1a" stroke="#1a1a1a" stroke-width="0.3" font-weight="normal">-0.1</text>
<text x="56.7" y="341.9" font-size="10.6" text-anchor="end" fill="#1a1a1a" stroke="#1a1a1a" stroke-width="0.3" font-weight="normal">-0.2</text>
<text x="113" y="234.3" font-size="12.8" fill="#1a1a1a" stroke="#1a1a1a" stroke-width="0.1">T<tspan font-size="8.8" dy="3.4">CM</tspan></text>
<text x="247" y="234.3" font-size="12.8" fill="#1a1a1a" stroke="#1a1a1a" stroke-width="0.1">T<tspan font-size="8.8" dy="3.4">TM</tspan></text>
<text x="383.7" y="234.3" font-size="12.8" fill="#1a1a1a" stroke="#1a1a1a" stroke-width="0.1">T<tspan font-size="8.8" dy="3.4">EM</tspan></text>
<rect x="471.8" y="224.70000000000002" width="9.9" height="10.3" fill="#000000"/>
<text x="486.3" y="233.2" font-size="12" text-anchor="start" fill="#1a1a1a" stroke="#1a1a1a" stroke-width="0.22" font-weight="normal" textLength="26.8" lengthAdjust="spacingAndGlyphs">day 4</text>
<rect x="471.8" y="240.4" width="9.9" height="10.3" fill="#0505ee"/>
<text x="486.3" y="248.9" font-size="12" text-anchor="start" fill="#1a1a1a" stroke="#1a1a1a" stroke-width="0.22" font-weight="normal" textLength="26.8" lengthAdjust="spacingAndGlyphs">day 7</text>
<rect x="471.8" y="256.09999999999997" width="9.9" height="10.3" fill="#ee0a16"/>
<text x="486.3" y="264.6" font-size="12" text-anchor="start" fill="#1a1a1a" stroke="#1a1a1a" stroke-width="0.22" font-weight="normal" textLength="34.5" lengthAdjust="spacingAndGlyphs">day 17</text>
<rect x="471.8" y="272.4" width="9.9" height="10.3" fill="#f6841f"/>
<text x="486.3" y="280.9" font-size="12" text-anchor="start" fill="#1a1a1a" stroke="#1a1a1a" stroke-width="0.22" font-weight="normal" textLength="34.5" lengthAdjust="spacingAndGlyphs">day 28</text>
<text transform="translate(9.8,368.4) rotate(-90)" font-size="12.5" fill="#1a1a1a" stroke="#1a1a1a" stroke-width="0.3" textLength="143.8" lengthAdjust="spacingAndGlyphs">Fold change in DR<tspan font-size="7" dy="-4">+</tspan><tspan dy="4">CD8</tspan><tspan font-size="7" dy="-4">+</tspan></text>
<text transform="translate(27.6,370.7) rotate(-90)" font-size="12.5" fill="#1a1a1a" stroke="#1a1a1a" stroke-width="0.3" textLength="148.7" lengthAdjust="spacingAndGlyphs">T cells over day -7 (log<tspan font-size="8" dy="2.5">10</tspan><tspan dy="-2.5">)</tspan></text>
<line x1="83.75" y1="453.4" x2="83.75" y2="550.0" stroke="#555555" stroke-width="0.95"/>
<line x1="83.75" y1="550.0" x2="296.8" y2="550.0" stroke="#555555" stroke-width="0.95"/>
<line x1="81.55" y1="475.7" x2="83.75" y2="475.7" stroke="#555555" stroke-width="0.9"/>
<line x1="81.55" y1="507.4" x2="83.75" y2="507.4" stroke="#555555" stroke-width="0.9"/>
<line x1="81.55" y1="539.1" x2="83.75" y2="539.1" stroke="#555555" stroke-width="0.9"/>
<line x1="117.65" y1="548.8" x2="117.65" y2="551.6" stroke="#555555" stroke-width="0.9"/>
<line x1="151.55" y1="548.8" x2="151.55" y2="551.6" stroke="#555555" stroke-width="0.9"/>
<line x1="185.45" y1="548.8" x2="185.45" y2="551.6" stroke="#555555" stroke-width="0.9"/>
<line x1="219.35" y1="548.8" x2="219.35" y2="551.6" stroke="#555555" stroke-width="0.9"/>
<line x1="253.25" y1="548.8" x2="253.25" y2="551.6" stroke="#555555" stroke-width="0.9"/>
<line x1="287.15" y1="548.8" x2="287.15" y2="551.6" stroke="#555555" stroke-width="0.9"/>
<line x1="117.15" y1="507.4" x2="296.0" y2="507.4" stroke="#7d7d7d" stroke-width="2"/>
<rect x="121.75" y="514.4" width="6.6" height="11.30" fill="none" stroke="#808080" stroke-width="0.9"/>
<rect x="140.95" y="503" width="6.6" height="9.30" fill="none" stroke="#808080" stroke-width="0.9"/>
<rect x="155.75" y="501" width="6.6" height="16.50" fill="none" stroke="#808080" stroke-width="0.9"/>
<rect x="165.35" y="489.6" width="6.6" height="21.70" fill="none" stroke="#808080" stroke-width="0.9"/>
<rect x="174.95" y="490" width="6.6" height="14.00" fill="none" stroke="#808080" stroke-width="0.9"/>
<rect x="189.75" y="498.9" width="6.6" height="12.40" fill="none" stroke="#808080" stroke-width="0.9"/>
<rect x="199.35" y="495.8" width="6.6" height="8.20" fill="none" stroke="#808080" stroke-width="0.9"/>
<rect x="208.95" y="468.9" width="6.6" height="26.50" fill="none" stroke="#808080" stroke-width="0.9"/>
<rect x="223.75" y="502" width="6.6" height="9.30" fill="none" stroke="#808080" stroke-width="0.9"/>
<rect x="233.35" y="481.3" width="6.6" height="11.40" fill="none" stroke="#808080" stroke-width="0.9"/>
<rect x="242.95" y="482.4" width="6.6" height="11.70" fill="none" stroke="#808080" stroke-width="0.9"/>
<rect x="257.75" y="510" width="6.6" height="14.50" fill="none" stroke="#808080" stroke-width="0.9"/>
<rect x="267.35" y="475" width="6.6" height="12.10" fill="none" stroke="#808080" stroke-width="0.9"/>
<rect x="276.95" y="477.4" width="6.6" height="7.30" fill="none" stroke="#808080" stroke-width="0.9"/>
<ellipse cx="91.05" cy="507.4" rx="2.8" ry="2.45" fill="#000000"/>
<ellipse cx="100.65" cy="507.4" rx="2.8" ry="2.45" fill="#0505ee"/>
<ellipse cx="110.25" cy="507.4" rx="2.8" ry="2.45" fill="#ee0a16"/>
<ellipse cx="125.05" cy="511.3" rx="2.8" ry="2.45" fill="#000000"/>
<ellipse cx="125.05" cy="514.8" rx="2.8" ry="2.45" fill="#000000"/>
<ellipse cx="125.05" cy="526.4" rx="2.8" ry="2.45" fill="#000000"/>
<ellipse cx="125.05" cy="529.3" rx="2.8" ry="2.45" fill="#000000"/>
<ellipse cx="134.65" cy="503" rx="2.8" ry="2.45" fill="#0505ee"/>
<ellipse cx="134.65" cy="506.5" rx="2.8" ry="2.45" fill="#0505ee"/>
<ellipse cx="134.65" cy="510.7" rx="2.8" ry="2.45" fill="#0505ee"/>
<ellipse cx="144.25" cy="495.8" rx="2.8" ry="2.45" fill="#ee0a16"/>
<ellipse cx="144.25" cy="503" rx="2.8" ry="2.45" fill="#ee0a16"/>
<ellipse cx="144.25" cy="506.1" rx="2.8" ry="2.45" fill="#ee0a16"/>
<ellipse cx="144.25" cy="512.3" rx="2.8" ry="2.45" fill="#ee0a16"/>
<ellipse cx="159.05" cy="492.7" rx="2.8" ry="2.45" fill="#000000"/>
<ellipse cx="159.05" cy="510.2" rx="2.8" ry="2.45" fill="#000000"/>
<ellipse cx="159.05" cy="517.5" rx="2.8" ry="2.45" fill="#000000"/>
<ellipse cx="159.05" cy="520.6" rx="2.8" ry="2.45" fill="#000000"/>
<ellipse cx="168.65" cy="483.4" rx="2.8" ry="2.45" fill="#0505ee"/>
<ellipse cx="168.65" cy="489.6" rx="2.8" ry="2.45" fill="#0505ee"/>
<ellipse cx="168.65" cy="510.2" rx="2.8" ry="2.45" fill="#0505ee"/>
<ellipse cx="168.65" cy="512.3" rx="2.8" ry="2.45" fill="#0505ee"/>
<ellipse cx="168.65" cy="522.2" rx="2.8" ry="2.45" fill="#0505ee"/>
<ellipse cx="178.25" cy="478.2" rx="2.8" ry="2.45" fill="#ee0a16"/>
<ellipse cx="178.25" cy="489.6" rx="2.8" ry="2.45" fill="#ee0a16"/>
<ellipse cx="178.25" cy="495.4" rx="2.8" ry="2.45" fill="#ee0a16"/>
<ellipse cx="178.25" cy="504.5" rx="2.8" ry="2.45" fill="#ee0a16"/>
<ellipse cx="178.25" cy="513.3" rx="2.8" ry="2.45" fill="#ee0a16"/>
<ellipse cx="193.05" cy="494.8" rx="2.8" ry="2.45" fill="#000000"/>
<ellipse cx="193.05" cy="497.4" rx="2.8" ry="2.45" fill="#000000"/>
<ellipse cx="193.05" cy="505.7" rx="2.8" ry="2.45" fill="#000000"/>
<ellipse cx="193.05" cy="518.1" rx="2.8" ry="2.45" fill="#000000"/>
<ellipse cx="202.65" cy="479.7" rx="2.8" ry="2.45" fill="#0505ee"/>
<ellipse cx="202.65" cy="496.2" rx="2.8" ry="2.45" fill="#0505ee"/>
<ellipse cx="202.65" cy="498.9" rx="2.8" ry="2.45" fill="#0505ee"/>
<ellipse cx="202.65" cy="501.6" rx="2.8" ry="2.45" fill="#0505ee"/>
<ellipse cx="202.65" cy="504" rx="2.8" ry="2.45" fill="#0505ee"/>
<ellipse cx="212.25" cy="464.8" rx="2.8" ry="2.45" fill="#ee0a16"/>
<ellipse cx="212.25" cy="469.3" rx="2.8" ry="2.45" fill="#ee0a16"/>
<ellipse cx="212.25" cy="487.1" rx="2.8" ry="2.45" fill="#ee0a16"/>
<ellipse cx="212.25" cy="490" rx="2.8" ry="2.45" fill="#ee0a16"/>
<ellipse cx="212.25" cy="495.4" rx="2.8" ry="2.45" fill="#ee0a16"/>
<ellipse cx="212.25" cy="509.2" rx="2.8" ry="2.45" fill="#ee0a16"/>
<ellipse cx="227.05" cy="499.9" rx="2.8" ry="2.45" fill="#000000"/>
<ellipse cx="227.05" cy="502" rx="2.8" ry="2.45" fill="#000000"/>
<ellipse cx="227.05" cy="504" rx="2.8" ry="2.45" fill="#000000"/>
<ellipse cx="227.05" cy="518.5" rx="2.8" ry="2.45" fill="#000000"/>
<ellipse cx="236.65" cy="478.2" rx="2.8" ry="2.45" fill="#0505ee"/>
<ellipse cx="236.65" cy="484.4" rx="2.8" ry="2.45" fill="#0505ee"/>
<ellipse cx="236.65" cy="493.3" rx="2.8" ry="2.45" fill="#0505ee"/>
<ellipse cx="236.65" cy="504.5" rx="2.8" ry="2.45" fill="#0505ee"/>
<ellipse cx="246.25" cy="463.1" rx="2.8" ry="2.45" fill="#ee0a16"/>
<ellipse cx="246.25" cy="483.8" rx="2.8" ry="2.45" fill="#ee0a16"/>
<ellipse cx="246.25" cy="487.1" rx="2.8" ry="2.45" fill="#ee0a16"/>
<ellipse cx="246.25" cy="493.3" rx="2.8" ry="2.45" fill="#ee0a16"/>
<ellipse cx="246.25" cy="516.4" rx="2.8" ry="2.45" fill="#ee0a16"/>
<ellipse cx="261.05" cy="505.2" rx="2.8" ry="2.45" fill="#000000"/>
<ellipse cx="261.05" cy="514.9" rx="2.8" ry="2.45" fill="#000000"/>
<ellipse cx="261.05" cy="517.8" rx="2.8" ry="2.45" fill="#000000"/>
<ellipse cx="261.05" cy="520.9" rx="2.8" ry="2.45" fill="#000000"/>
<ellipse cx="261.05" cy="531.8" rx="2.8" ry="2.45" fill="#000000"/>
<ellipse cx="270.65" cy="469" rx="2.8" ry="2.45" fill="#0505ee"/>
<ellipse cx="270.65" cy="475" rx="2.8" ry="2.45" fill="#0505ee"/>
<ellipse cx="270.65" cy="483.5" rx="2.8" ry="2.45" fill="#0505ee"/>
<ellipse cx="270.65" cy="485.9" rx="2.8" ry="2.45" fill="#0505ee"/>
<ellipse cx="270.65" cy="498.5" rx="2.8" ry="2.45" fill="#0505ee"/>
<ellipse cx="280.25" cy="455" rx="2.8" ry="2.45" fill="#ee0a16"/>
<ellipse cx="280.25" cy="477.4" rx="2.8" ry="2.45" fill="#ee0a16"/>
<ellipse cx="280.25" cy="481.5" rx="2.8" ry="2.45" fill="#ee0a16"/>
<ellipse cx="280.25" cy="484.7" rx="2.8" ry="2.45" fill="#ee0a16"/>
<ellipse cx="280.25" cy="500.4" rx="2.8" ry="2.45" fill="#ee0a16"/>
<line x1="121.75" y1="519.5" x2="128.35" y2="519.5" stroke="#111" stroke-width="1.1"/>
<line x1="140.95" y1="505.7" x2="147.55" y2="505.7" stroke="#111" stroke-width="1.1"/>
<line x1="155.75" y1="513.3" x2="162.35" y2="513.3" stroke="#111" stroke-width="1.1"/>
<line x1="165.35" y1="510" x2="171.95" y2="510" stroke="#111" stroke-width="1.1"/>
<line x1="174.95" y1="492.7" x2="181.55" y2="492.7" stroke="#111" stroke-width="1.1"/>
<line x1="189.75" y1="506.5" x2="196.35" y2="506.5" stroke="#111" stroke-width="1.1"/>
<line x1="199.35" y1="500" x2="205.95" y2="500" stroke="#111" stroke-width="1.1"/>
<line x1="208.95" y1="488.6" x2="215.55" y2="488.6" stroke="#111" stroke-width="1.1"/>
<line x1="223.75" y1="505" x2="230.35" y2="505" stroke="#111" stroke-width="1.1"/>
<line x1="233.35" y1="485" x2="239.95" y2="485" stroke="#111" stroke-width="1.1"/>
<line x1="242.95" y1="486.5" x2="249.55" y2="486.5" stroke="#111" stroke-width="1.1"/>
<line x1="257.75" y1="517" x2="264.35" y2="517" stroke="#111" stroke-width="1.1"/>
<line x1="267.35" y1="483" x2="273.95" y2="483" stroke="#111" stroke-width="1.1"/>
<line x1="276.95" y1="481" x2="283.55" y2="481" stroke="#111" stroke-width="1.1"/>
<text x="102.25" y="562.9" font-size="10.2" text-anchor="middle" fill="#1a1a1a" stroke="#1a1a1a" stroke-width="0.3" font-weight="normal">-7</text>
<text x="134.65" y="562.9" font-size="10.2" text-anchor="middle" fill="#1a1a1a" stroke="#1a1a1a" stroke-width="0.3" font-weight="normal">2</text>
<text x="168.65" y="562.9" font-size="10.2" text-anchor="middle" fill="#1a1a1a" stroke="#1a1a1a" stroke-width="0.3" font-weight="normal">4</text>
<text x="202.65" y="562.9" font-size="10.2" text-anchor="middle" fill="#1a1a1a" stroke="#1a1a1a" stroke-width="0.3" font-weight="normal">7</text>
<text x="236.65" y="562.9" font-size="10.2" text-anchor="middle" fill="#1a1a1a" stroke="#1a1a1a" stroke-width="0.3" font-weight="normal">28</text>
<text x="270.65" y="562.9" font-size="10.2" text-anchor="middle" fill="#1a1a1a" stroke="#1a1a1a" stroke-width="0.3" font-weight="normal">46</text>
<text x="89.45" y="576.3" font-size="12.4" text-anchor="start" fill="#1a1a1a" stroke="#1a1a1a" stroke-width="0.22" font-weight="normal" textLength="25.3" lengthAdjust="spacingAndGlyphs">days</text>
<text x="80.8" y="479.6" font-size="10.8" text-anchor="end" fill="#1a1a1a" stroke="#1a1a1a" stroke-width="0.3" font-weight="normal">0.5</text>
<text x="80.8" y="511.3" font-size="10.8" text-anchor="end" fill="#1a1a1a" stroke="#1a1a1a" stroke-width="0.3" font-weight="normal">0.0</text>
<text x="80.8" y="543.0" font-size="10.8" text-anchor="end" fill="#1a1a1a" stroke="#1a1a1a" stroke-width="0.3" font-weight="normal">-0.5</text>
<line x1="306.4" y1="454.5" x2="306.4" y2="550.0" stroke="#555555" stroke-width="0.95"/>
<line x1="306.4" y1="550.0" x2="520" y2="550.0" stroke="#555555" stroke-width="0.95"/>
<line x1="304.2" y1="478.1" x2="306.4" y2="478.1" stroke="#555555" stroke-width="0.9"/>
<line x1="304.2" y1="508.3" x2="306.4" y2="508.3" stroke="#555555" stroke-width="0.9"/>
<line x1="304.2" y1="538.5" x2="306.4" y2="538.5" stroke="#555555" stroke-width="0.9"/>
<line x1="340.3" y1="548.8" x2="340.3" y2="551.6" stroke="#555555" stroke-width="0.9"/>
<line x1="374.2" y1="548.8" x2="374.2" y2="551.6" stroke="#555555" stroke-width="0.9"/>
<line x1="408.1" y1="548.8" x2="408.1" y2="551.6" stroke="#555555" stroke-width="0.9"/>
<line x1="442.0" y1="548.8" x2="442.0" y2="551.6" stroke="#555555" stroke-width="0.9"/>
<line x1="475.9" y1="548.8" x2="475.9" y2="551.6" stroke="#555555" stroke-width="0.9"/>
<line x1="509.8" y1="548.8" x2="509.8" y2="551.6" stroke="#555555" stroke-width="0.9"/>
<line x1="339.8" y1="508.3" x2="520" y2="508.3" stroke="#7d7d7d" stroke-width="2"/>
<rect x="344.40" y="512.5" width="6.6" height="9.10" fill="none" stroke="#808080" stroke-width="0.9"/>
<rect x="354.00" y="499" width="6.6" height="9.00" fill="none" stroke="#808080" stroke-width="0.9"/>
<rect x="363.60" y="499.2" width="6.6" height="12.80" fill="none" stroke="#808080" stroke-width="0.9"/>
<rect x="378.40" y="490.5" width="6.6" height="21.80" fill="none" stroke="#808080" stroke-width="0.9"/>
<rect x="388.00" y="490.5" width="6.6" height="24.90" fill="none" stroke="#808080" stroke-width="0.9"/>
<rect x="397.60" y="485.7" width="6.6" height="17.60" fill="none" stroke="#808080" stroke-width="0.9"/>
<rect x="412.40" y="488.8" width="6.6" height="16.90" fill="none" stroke="#808080" stroke-width="0.9"/>
<rect x="422.00" y="507" width="6.6" height="5.00" fill="none" stroke="#808080" stroke-width="0.9"/>
<rect x="431.60" y="469.5" width="6.6" height="38.70" fill="none" stroke="#808080" stroke-width="0.9"/>
<rect x="446.40" y="473.8" width="6.6" height="27.00" fill="none" stroke="#808080" stroke-width="0.9"/>
<rect x="456.00" y="483.4" width="6.6" height="30.40" fill="none" stroke="#808080" stroke-width="0.9"/>
<rect x="465.60" y="480.7" width="6.6" height="40.00" fill="none" stroke="#808080" stroke-width="0.9"/>
<rect x="480.40" y="493.1" width="6.6" height="15.70" fill="none" stroke="#808080" stroke-width="0.9"/>
<rect x="490.00" y="490.3" width="6.6" height="18.50" fill="none" stroke="#808080" stroke-width="0.9"/>
<rect x="499.60" y="482.1" width="6.6" height="12.40" fill="none" stroke="#808080" stroke-width="0.9"/>
<ellipse cx="313.70" cy="508.3" rx="2.8" ry="2.45" fill="#000000"/>
<ellipse cx="323.30" cy="508.3" rx="2.8" ry="2.45" fill="#0505ee"/>
<ellipse cx="332.90" cy="508.3" rx="2.8" ry="2.45" fill="#ee0a16"/>
<ellipse cx="347.70" cy="507.6" rx="2.8" ry="2.45" fill="#000000"/>
<ellipse cx="347.70" cy="514.9" rx="2.8" ry="2.45" fill="#000000"/>
<ellipse cx="347.70" cy="519.7" rx="2.8" ry="2.45" fill="#000000"/>
<ellipse cx="347.70" cy="530.6" rx="2.8" ry="2.45" fill="#000000"/>
<ellipse cx="357.30" cy="489" rx="2.8" ry="2.45" fill="#0505ee"/>
<ellipse cx="357.30" cy="499.2" rx="2.8" ry="2.45" fill="#0505ee"/>
<ellipse cx="357.30" cy="503.3" rx="2.8" ry="2.45" fill="#0505ee"/>
<ellipse cx="357.30" cy="506.4" rx="2.8" ry="2.45" fill="#0505ee"/>
<ellipse cx="357.30" cy="512" rx="2.8" ry="2.45" fill="#0505ee"/>
<ellipse cx="366.90" cy="499.2" rx="2.8" ry="2.45" fill="#ee0a16"/>
<ellipse cx="366.90" cy="510" rx="2.8" ry="2.45" fill="#ee0a16"/>
<ellipse cx="366.90" cy="512" rx="2.8" ry="2.45" fill="#ee0a16"/>
<ellipse cx="381.70" cy="482.3" rx="2.8" ry="2.45" fill="#000000"/>
<ellipse cx="381.70" cy="501.6" rx="2.8" ry="2.45" fill="#000000"/>
<ellipse cx="381.70" cy="504.1" rx="2.8" ry="2.45" fill="#000000"/>
<ellipse cx="381.70" cy="510.6" rx="2.8" ry="2.45" fill="#000000"/>
<ellipse cx="381.70" cy="519.5" rx="2.8" ry="2.45" fill="#000000"/>
<ellipse cx="391.30" cy="484" rx="2.8" ry="2.45" fill="#0505ee"/>
<ellipse cx="391.30" cy="491.7" rx="2.8" ry="2.45" fill="#0505ee"/>
<ellipse cx="391.30" cy="503.3" rx="2.8" ry="2.45" fill="#0505ee"/>
<ellipse cx="391.30" cy="515.4" rx="2.8" ry="2.45" fill="#0505ee"/>
<ellipse cx="391.30" cy="517.8" rx="2.8" ry="2.45" fill="#0505ee"/>
<ellipse cx="391.30" cy="526.3" rx="2.8" ry="2.45" fill="#0505ee"/>
<ellipse cx="400.90" cy="473.1" rx="2.8" ry="2.45" fill="#ee0a16"/>
<ellipse cx="400.90" cy="484.7" rx="2.8" ry="2.45" fill="#ee0a16"/>
<ellipse cx="400.90" cy="493.7" rx="2.8" ry="2.45" fill="#ee0a16"/>
<ellipse cx="400.90" cy="498.5" rx="2.8" ry="2.45" fill="#ee0a16"/>
<ellipse cx="400.90" cy="502.1" rx="2.8" ry="2.45" fill="#ee0a16"/>
<ellipse cx="400.90" cy="509.9" rx="2.8" ry="2.45" fill="#ee0a16"/>
<ellipse cx="415.70" cy="485.2" rx="2.8" ry="2.45" fill="#000000"/>
<ellipse cx="415.70" cy="489.6" rx="2.8" ry="2.45" fill="#000000"/>
<ellipse cx="415.70" cy="505" rx="2.8" ry="2.45" fill="#000000"/>
<ellipse cx="415.70" cy="509.9" rx="2.8" ry="2.45" fill="#000000"/>
<ellipse cx="425.30" cy="473.6" rx="2.8" ry="2.45" fill="#0505ee"/>
<ellipse cx="425.30" cy="507" rx="2.8" ry="2.45" fill="#0505ee"/>
<ellipse cx="425.30" cy="511.3" rx="2.8" ry="2.45" fill="#0505ee"/>
<ellipse cx="425.30" cy="515.4" rx="2.8" ry="2.45" fill="#0505ee"/>
<ellipse cx="434.90" cy="463" rx="2.8" ry="2.45" fill="#ee0a16"/>
<ellipse cx="434.90" cy="469.5" rx="2.8" ry="2.45" fill="#ee0a16"/>
<ellipse cx="434.90" cy="485.2" rx="2.8" ry="2.45" fill="#ee0a16"/>
<ellipse cx="434.90" cy="508.2" rx="2.8" ry="2.45" fill="#ee0a16"/>
<ellipse cx="449.70" cy="470.2" rx="2.8" ry="2.45" fill="#000000"/>
<ellipse cx="449.70" cy="475.2" rx="2.8" ry="2.45" fill="#000000"/>
<ellipse cx="449.70" cy="493.1" rx="2.8" ry="2.45" fill="#000000"/>
<ellipse cx="449.70" cy="513.2" rx="2.8" ry="2.45" fill="#000000"/>
<ellipse cx="459.30" cy="480.7" rx="2.8" ry="2.45" fill="#0505ee"/>
<ellipse cx="459.30" cy="485.7" rx="2.8" ry="2.45" fill="#0505ee"/>
<ellipse cx="459.30" cy="515.2" rx="2.8" ry="2.45" fill="#0505ee"/>
<ellipse cx="459.30" cy="518.8" rx="2.8" ry="2.45" fill="#0505ee"/>
<ellipse cx="468.90" cy="454.5" rx="2.8" ry="2.45" fill="#ee0a16"/>
<ellipse cx="468.90" cy="479.3" rx="2.8" ry="2.45" fill="#ee0a16"/>
<ellipse cx="468.90" cy="486.2" rx="2.8" ry="2.45" fill="#ee0a16"/>
<ellipse cx="468.90" cy="522.1" rx="2.8" ry="2.45" fill="#ee0a16"/>
<ellipse cx="468.90" cy="526.2" rx="2.8" ry="2.45" fill="#ee0a16"/>
<ellipse cx="483.70" cy="489" rx="2.8" ry="2.45" fill="#000000"/>
<ellipse cx="483.70" cy="496.7" rx="2.8" ry="2.45" fill="#000000"/>
<ellipse cx="483.70" cy="500" rx="2.8" ry="2.45" fill="#000000"/>
<ellipse cx="483.70" cy="524.3" rx="2.8" ry="2.45" fill="#000000"/>
<ellipse cx="493.30" cy="475.7" rx="2.8" ry="2.45" fill="#0505ee"/>
<ellipse cx="493.30" cy="484.8" rx="2.8" ry="2.45" fill="#0505ee"/>
<ellipse cx="493.30" cy="493.1" rx="2.8" ry="2.45" fill="#0505ee"/>
<ellipse cx="493.30" cy="507.7" rx="2.8" ry="2.45" fill="#0505ee"/>
<ellipse cx="493.30" cy="509.7" rx="2.8" ry="2.45" fill="#0505ee"/>
<ellipse cx="502.90" cy="478.5" rx="2.8" ry="2.45" fill="#ee0a16"/>
<ellipse cx="502.90" cy="482.1" rx="2.8" ry="2.45" fill="#ee0a16"/>
<ellipse cx="502.90" cy="495.9" rx="2.8" ry="2.45" fill="#ee0a16"/>
<ellipse cx="502.90" cy="503.3" rx="2.8" ry="2.45" fill="#ee0a16"/>
<line x1="344.4" y1="517" x2="351.0" y2="517" stroke="#111" stroke-width="1.1"/>
<line x1="354.0" y1="503.5" x2="360.6" y2="503.5" stroke="#111" stroke-width="1.1"/>
<line x1="363.6" y1="506" x2="370.2" y2="506" stroke="#111" stroke-width="1.1"/>
<line x1="378.4" y1="504" x2="385.0" y2="504" stroke="#111" stroke-width="1.1"/>
<line x1="388.0" y1="508" x2="394.6" y2="508" stroke="#111" stroke-width="1.1"/>
<line x1="397.6" y1="496.8" x2="404.2" y2="496.8" stroke="#111" stroke-width="1.1"/>
<line x1="412.4" y1="496.8" x2="419.0" y2="496.8" stroke="#111" stroke-width="1.1"/>
<line x1="422.0" y1="509" x2="428.6" y2="509" stroke="#111" stroke-width="1.1"/>
<line x1="431.6" y1="485" x2="438.2" y2="485" stroke="#111" stroke-width="1.1"/>
<line x1="446.4" y1="482.9" x2="453.0" y2="482.9" stroke="#111" stroke-width="1.1"/>
<line x1="456.0" y1="485" x2="462.6" y2="485" stroke="#111" stroke-width="1.1"/>
<line x1="465.6" y1="486.2" x2="472.2" y2="486.2" stroke="#111" stroke-width="1.1"/>
<line x1="480.4" y1="497" x2="487.0" y2="497" stroke="#111" stroke-width="1.1"/>
<line x1="490.0" y1="492" x2="496.6" y2="492" stroke="#111" stroke-width="1.1"/>
<line x1="499.6" y1="482.9" x2="506.2" y2="482.9" stroke="#111" stroke-width="1.1"/>
<text x="324.9" y="562.9" font-size="10.2" text-anchor="middle" fill="#1a1a1a" stroke="#1a1a1a" stroke-width="0.3" font-weight="normal">-7</text>
<text x="357.3" y="562.9" font-size="10.2" text-anchor="middle" fill="#1a1a1a" stroke="#1a1a1a" stroke-width="0.3" font-weight="normal">2</text>
<text x="391.3" y="562.9" font-size="10.2" text-anchor="middle" fill="#1a1a1a" stroke="#1a1a1a" stroke-width="0.3" font-weight="normal">4</text>
<text x="425.3" y="562.9" font-size="10.2" text-anchor="middle" fill="#1a1a1a" stroke="#1a1a1a" stroke-width="0.3" font-weight="normal">7</text>
<text x="459.3" y="562.9" font-size="10.2" text-anchor="middle" fill="#1a1a1a" stroke="#1a1a1a" stroke-width="0.3" font-weight="normal">28</text>
<text x="493.3" y="562.9" font-size="10.2" text-anchor="middle" fill="#1a1a1a" stroke="#1a1a1a" stroke-width="0.3" font-weight="normal">46</text>
<text x="312.09999999999997" y="576.3" font-size="12.4" text-anchor="start" fill="#1a1a1a" stroke="#1a1a1a" stroke-width="0.22" font-weight="normal" textLength="25.3" lengthAdjust="spacingAndGlyphs">days</text>
<text x="104.7" y="457.7" font-size="12" fill="#1a1a1a" stroke="#1a1a1a" stroke-width="0.3">CD4<tspan font-size="7.5" dy="-4.5">+</tspan></text>
<text x="325.5" y="457.5" font-size="12" fill="#1a1a1a" stroke="#1a1a1a" stroke-width="0.3">CD8<tspan font-size="7.5" dy="-4.5">+</tspan></text>
<text x="435.1" y="439.7" font-size="12" text-anchor="middle" fill="#e0202a" stroke="#e0202a" stroke-width="0.2" font-weight="bold" style="stroke-width:0.6">#</text>
<text x="502.5" y="440.0" font-size="12" text-anchor="middle" fill="#e0202a" stroke="#e0202a" stroke-width="0.2" font-weight="bold" style="stroke-width:0.6">#</text>
<text transform="translate(32.6,538.6) rotate(-90)" font-size="12.4" fill="#1a1a1a" stroke="#1a1a1a" stroke-width="0.3" textLength="69.6" lengthAdjust="spacingAndGlyphs">Fold change</text>
<text transform="translate(51,548.4) rotate(-90)" font-size="12.4" fill="#1a1a1a" stroke="#1a1a1a" stroke-width="0.3" textLength="89.7" lengthAdjust="spacingAndGlyphs">in count (log<tspan font-size="8.2" dy="2.5">10</tspan><tspan dy="-2.5">)</tspan></text>
</svg>
</body></html>
